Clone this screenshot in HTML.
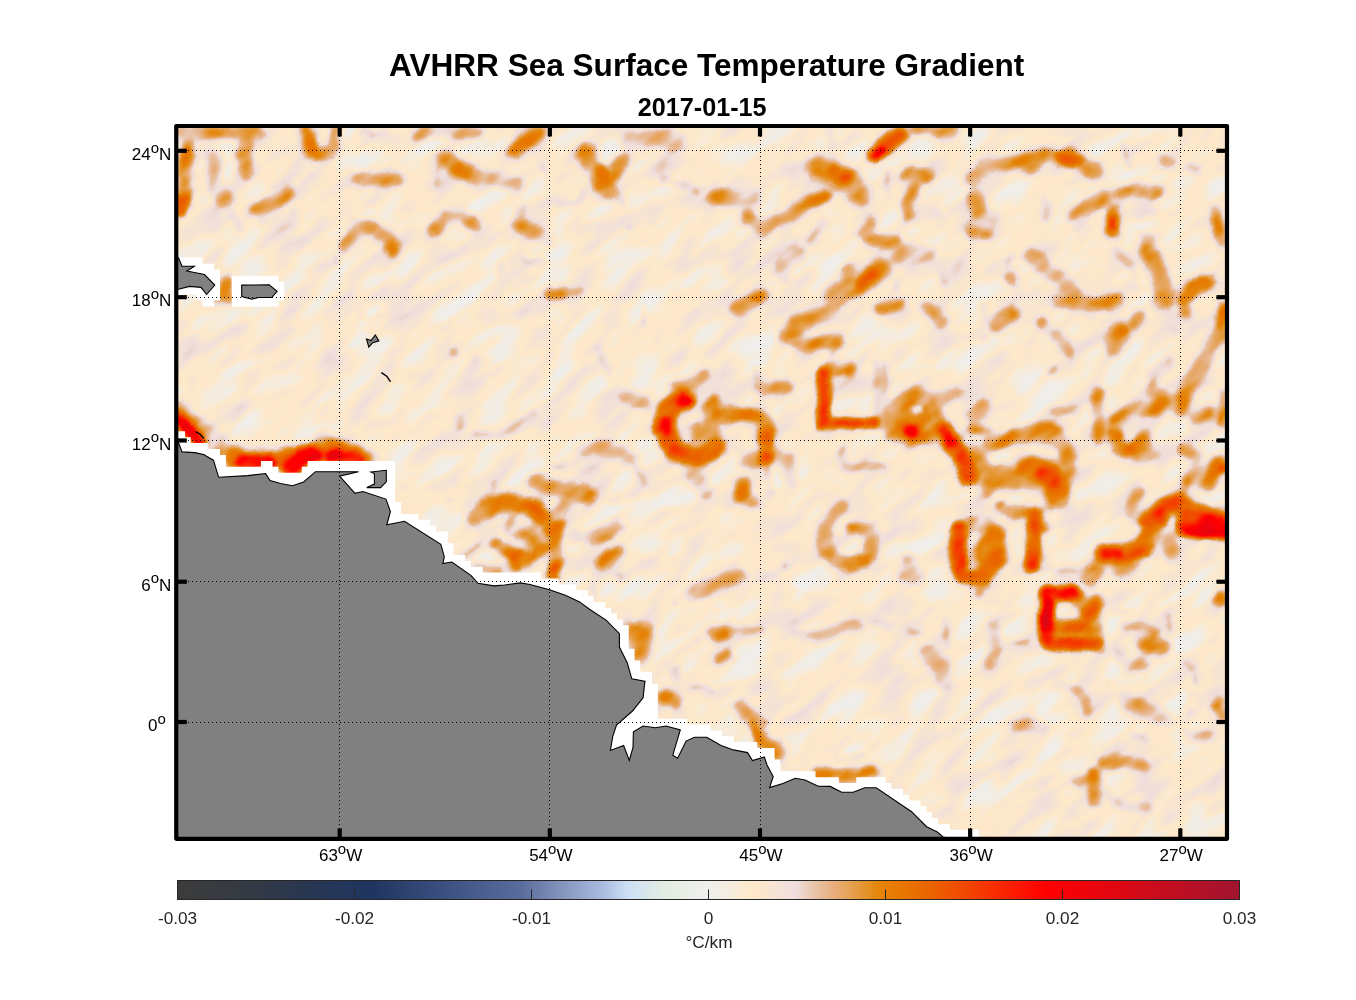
<!DOCTYPE html>
<html><head><meta charset="utf-8"><title>AVHRR Sea Surface Temperature Gradient</title>
<style>
html,body{margin:0;padding:0;background:#fff;}
body{width:1356px;height:1000px;overflow:hidden;font-family:"Liberation Sans",sans-serif;}
svg{display:block;position:absolute;left:0;top:0;}
text{font-family:"Liberation Sans",sans-serif;}
</style></head><body>
<svg width="1356" height="1000" viewBox="0 0 1356 1000">
<defs>
<clipPath id="mapclip"><rect x="176.25" y="126.00" width="1050.75" height="712.85"/></clipPath>
<linearGradient id="cbg" x1="0" x2="1" y1="0" y2="0"><stop offset="0.0000" stop-color="#3c3c3c"/><stop offset="0.0667" stop-color="#343a44"/><stop offset="0.1250" stop-color="#283652"/><stop offset="0.1833" stop-color="#1f3560"/><stop offset="0.2500" stop-color="#3c5080"/><stop offset="0.3233" stop-color="#5a6c9c"/><stop offset="0.3617" stop-color="#8494bc"/><stop offset="0.4017" stop-color="#aabde0"/><stop offset="0.4233" stop-color="#cddff5"/><stop offset="0.4600" stop-color="#e3eee2"/><stop offset="0.5000" stop-color="#f0efec"/><stop offset="0.5200" stop-color="#f5ecde"/><stop offset="0.5407" stop-color="#ffe9c8"/><stop offset="0.5617" stop-color="#f6e4d4"/><stop offset="0.5817" stop-color="#efdede"/><stop offset="0.6000" stop-color="#e8c4a8"/><stop offset="0.6167" stop-color="#e8b080"/><stop offset="0.6317" stop-color="#e6a458"/><stop offset="0.6450" stop-color="#e49632"/><stop offset="0.6583" stop-color="#e4880e"/><stop offset="0.6667" stop-color="#e68008"/><stop offset="0.6800" stop-color="#e87800"/><stop offset="0.7083" stop-color="#ea6400"/><stop offset="0.7500" stop-color="#f44000"/><stop offset="0.7917" stop-color="#fc1800"/><stop offset="0.8167" stop-color="#ff0000"/><stop offset="0.8333" stop-color="#f80006"/><stop offset="0.8750" stop-color="#e4060f"/><stop offset="0.9167" stop-color="#cc0c1c"/><stop offset="1.0000" stop-color="#a01430"/></linearGradient>
<filter id="field" x="-100" y="-350" width="1600" height="1700" filterUnits="userSpaceOnUse" color-interpolation-filters="sRGB">
<feGaussianBlur in="SourceGraphic" stdDeviation="2.6" result="bl0"/>
<feTurbulence type="fractalNoise" baseFrequency="0.045 0.05" numOctaves="2" seed="11" result="dn"/>
<feDisplacementMap in="bl0" in2="dn" scale="6" xChannelSelector="R" yChannelSelector="G" result="bl1"/>
<feTurbulence type="fractalNoise" baseFrequency="0.035 0.05" numOctaves="2" seed="23" result="mn"/>
<feColorMatrix in="mn" type="matrix" values="1 0 0 0 0  1 0 0 0 0  1 0 0 0 0  0 0 0 0 1" result="mn2"/>
<feComposite in="bl1" in2="mn2" operator="arithmetic" k1="0.6" k2="0.68" k3="0" k4="0" result="bl"/>
<feTurbulence type="fractalNoise" baseFrequency="0.02 0.05" numOctaves="2" seed="7" result="nz"/>
<feColorMatrix in="nz" type="matrix" values="0.36 0 0 0 -0.082  0.36 0 0 0 -0.082  0.36 0 0 0 -0.082  0 0 0 0 1" result="nz2"/>
<feComposite in="bl" in2="nz2" operator="arithmetic" k1="0" k2="1" k3="1" k4="0" result="sum"/>
<feColorMatrix in="sum" type="matrix" values="1 0 0 0 0  1 0 0 0 0  1 0 0 0 0  0 0 0 0 1" result="g"/>
<feComponentTransfer in="g">
<feFuncR type="table" tableValues="0.941 0.949 0.958 0.970 0.986 0.998 0.984 0.970 0.958 0.946 0.935 0.922 0.910 0.910 0.910 0.905 0.901 0.896 0.894 0.894 0.902 0.907 0.911 0.913 0.915 0.918 0.925 0.933 0.941 0.949 0.957 0.963 0.969 0.976 0.982 0.988 0.992 0.996 1.000 0.986 0.973 0.957 0.941 0.925 0.910 0.894 0.875 0.856 0.838 0.819 0.800"/>
<feFuncG type="table" tableValues="0.937 0.932 0.927 0.923 0.918 0.913 0.905 0.897 0.888 0.878 0.861 0.815 0.769 0.729 0.690 0.664 0.636 0.602 0.568 0.533 0.502 0.482 0.461 0.438 0.415 0.392 0.364 0.336 0.307 0.279 0.251 0.220 0.188 0.157 0.125 0.094 0.063 0.031 0.000 0.000 0.000 0.005 0.009 0.014 0.019 0.024 0.028 0.033 0.038 0.042 0.047"/>
<feFuncB type="table" tableValues="0.925 0.903 0.880 0.850 0.815 0.787 0.805 0.824 0.841 0.858 0.851 0.755 0.659 0.580 0.502 0.415 0.326 0.233 0.143 0.055 0.031 0.012 0.000 0.000 0.000 0.000 0.000 0.000 0.000 0.000 0.000 0.000 0.000 0.000 0.000 0.000 0.000 0.000 0.000 0.012 0.024 0.031 0.038 0.045 0.052 0.059 0.069 0.079 0.089 0.100 0.110"/>
</feComponentTransfer>
</filter>
</defs>
<rect x="0" y="0" width="1356" height="1000" fill="#ffffff"/>
<text x="706.7" y="75.9" text-anchor="middle" font-size="31.55" font-weight="bold" fill="#000" opacity="0.999">AVHRR Sea Surface Temperature Gradient</text>
<text x="702.2" y="116.1" text-anchor="middle" font-size="25.2" font-weight="bold" fill="#000" opacity="0.999">2017-01-15</text>
<g clip-path="url(#mapclip)">
<g transform="rotate(-38 700 480)" filter="url(#field)"><g transform="rotate(38 700 480)">
<rect x="100" y="60" width="1200" height="860" fill="#000"/>
<g fill="none" stroke-linecap="round" stroke-linejoin="round">
<path d="M182.6 131.8L220.2 131.3L257.9 132.2" stroke="rgb(31,31,31)" stroke-width="18.4"/>
<path d="M187.1 134.8L186.0 170.2L183.7 192.4" stroke="rgb(31,31,31)" stroke-width="18.4"/>
<path d="M181.5 200.1L179.3 207.9" stroke="rgb(31,31,31)" stroke-width="20.1"/>
<path d="M213.6 159.2L218.0 192.4L226.9 201.2" stroke="rgb(31,31,31)" stroke-width="19.1"/>
<path d="M247.9 132.6L242.4 152.5L246.8 169.1" stroke="rgb(31,31,31)" stroke-width="22.5"/>
<path d="M231.3 214.5L240.2 230.0" stroke="rgb(31,31,31)" stroke-width="5.6"/>
<path d="M306.5 130.4L308.3 147.0L319.8 155.9L334.2 148.1L336.4 130.4" stroke="rgb(31,31,31)" stroke-width="18.4"/>
<path d="M308.7 141.5L313.2 151.4" stroke="rgb(31,31,31)" stroke-width="14.1"/>
<path d="M285.5 193.5L268.9 203.4L257.9 208.3" stroke="rgb(31,31,31)" stroke-width="21.8"/>
<path d="M260.1 210.1L261.2 223.3" stroke="rgb(31,31,31)" stroke-width="5.6"/>
<path d="M359.6 179.1L379.5 179.1L395.0 180.2" stroke="rgb(31,31,31)" stroke-width="20.4"/>
<path d="M445.9 159.2L461.4 170.2L476.0 176.9" stroke="rgb(31,31,31)" stroke-width="22.5"/>
<path d="M439.3 170.2L437.1 183.5" stroke="rgb(31,31,31)" stroke-width="7.1"/>
<path d="M361.8 130.4L375.1 137.1L388.4 132.6" stroke="rgb(31,31,31)" stroke-width="7.6"/>
<path d="M417.2 134.8L441.5 130.4L476.0 132.6" stroke="rgb(31,31,31)" stroke-width="14.9"/>
<path d="M344.1 245.5L359.6 226.7L375.1 228.2L388.4 238.8L393.9 249.9" stroke="rgb(31,31,31)" stroke-width="19.1"/>
<path d="M434.8 230.0L448.1 217.2L463.6 216.7L473.6 223.3" stroke="rgb(31,31,31)" stroke-width="17.7"/>
<path d="M335.7 256.5L334.8 265.4" stroke="rgb(31,31,31)" stroke-width="6.6"/>
<path d="M225.8 282.0L225.8 294.1" stroke="rgb(31,31,31)" stroke-width="18.4"/>
<path d="M215.8 298.1L235.7 296.8" stroke="rgb(31,31,31)" stroke-width="14.3"/>
<path d="M359.6 314.1L368.5 320.7L379.5 314.1" stroke="rgb(31,31,31)" stroke-width="4.5"/>
<path d="M295.5 210.1L291.0 214.5" stroke="rgb(31,31,31)" stroke-width="5.6"/>
<path d="M535.7 130.4L513.6 150.3" stroke="rgb(31,31,31)" stroke-width="19.8"/>
<path d="M476.0 174.7L498.1 179.1L515.8 184.0" stroke="rgb(31,31,31)" stroke-width="17.7"/>
<path d="M586.6 152.5L595.5 174.7L608.7 190.2" stroke="rgb(31,31,31)" stroke-width="25.9"/>
<path d="M596.6 168.0L603.2 176.9" stroke="rgb(31,31,31)" stroke-width="20.1"/>
<path d="M622.0 159.2L613.2 176.9" stroke="rgb(31,31,31)" stroke-width="21.1"/>
<path d="M617.6 196.8L622.0 203.4" stroke="rgb(31,31,31)" stroke-width="6.1"/>
<path d="M628.7 141.5L653.0 137.1L677.3 141.5" stroke="rgb(31,31,31)" stroke-width="19.1"/>
<path d="M664.1 179.1L684.0 184.6L695.0 190.2" stroke="rgb(31,31,31)" stroke-width="9.6"/>
<path d="M714.9 196.8L737.1 199.5L752.5 194.6" stroke="rgb(31,31,31)" stroke-width="19.1"/>
<path d="M748.1 218.9L763.6 227.8L776.0 221.1" stroke="rgb(31,31,31)" stroke-width="21.1"/>
<path d="M520.2 210.1L516.9 223.3L531.3 232.2L546.8 238.8" stroke="rgb(31,31,31)" stroke-width="17.0"/>
<path d="M524.7 261.0L544.6 262.1" stroke="rgb(31,31,31)" stroke-width="7.6"/>
<path d="M500.3 263.2L498.1 276.4" stroke="rgb(31,31,31)" stroke-width="6.6"/>
<path d="M550.1 291.9L560.1 293.0" stroke="rgb(31,31,31)" stroke-width="17.7"/>
<path d="M568.9 293.0L582.2 291.9" stroke="rgb(31,31,31)" stroke-width="6.6"/>
<path d="M763.6 294.6L752.5 300.8L737.1 309.6" stroke="rgb(31,31,31)" stroke-width="20.4"/>
<path d="M762.5 295.9L757.0 298.6" stroke="rgb(31,31,31)" stroke-width="15.4"/>
<path d="M644.1 307.4L643.0 322.9" stroke="rgb(31,31,31)" stroke-width="7.6"/>
<path d="M582.2 190.2L580.0 201.2L560.1 203.4" stroke="rgb(31,31,31)" stroke-width="5.6"/>
<path d="M476.0 134.8L479.3 136.0" stroke="rgb(31,31,31)" stroke-width="8.1"/>
<path d="M628.7 227.8L630.9 228.9" stroke="rgb(31,31,31)" stroke-width="6.6"/>
<path d="M542.4 163.6L544.6 172.5" stroke="rgb(31,31,31)" stroke-width="6.1"/>
<path d="M899.9 134.8L886.6 145.9L873.3 153.7" stroke="rgb(31,31,31)" stroke-width="22.1"/>
<path d="M880.0 151.4L873.3 153.7" stroke="rgb(31,31,31)" stroke-width="16.1"/>
<path d="M829.1 130.4L831.3 145.9" stroke="rgb(31,31,31)" stroke-width="10.1"/>
<path d="M917.6 129.3L939.7 132.6L953.0 130.4" stroke="rgb(31,31,31)" stroke-width="16.3"/>
<path d="M818.0 165.8L837.9 174.7L853.4 184.0L862.3 196.8" stroke="rgb(31,31,31)" stroke-width="28.0"/>
<path d="M834.6 171.4L844.6 178.0" stroke="rgb(31,31,31)" stroke-width="18.7"/>
<path d="M776.0 218.9L791.5 214.5L809.2 201.2L824.7 196.8" stroke="rgb(31,31,31)" stroke-width="19.1"/>
<path d="M908.7 174.7L926.4 176.9" stroke="rgb(31,31,31)" stroke-width="19.8"/>
<path d="M915.4 179.1L908.7 201.2L907.6 214.5" stroke="rgb(31,31,31)" stroke-width="17.7"/>
<path d="M888.8 172.5L886.6 190.2" stroke="rgb(31,31,31)" stroke-width="8.6"/>
<path d="M970.7 179.1L988.4 165.8L1010.5 161.4L1041.5 159.2L1063.6 154.8L1076.0 159.2" stroke="rgb(31,31,31)" stroke-width="20.4"/>
<path d="M974.0 196.8L979.5 214.5L992.8 221.1" stroke="rgb(31,31,31)" stroke-width="19.1"/>
<path d="M970.7 232.2L988.4 233.3" stroke="rgb(31,31,31)" stroke-width="17.7"/>
<path d="M937.5 210.1L926.4 218.9L919.8 223.3" stroke="rgb(31,31,31)" stroke-width="9.6"/>
<path d="M871.1 223.3L864.5 234.4L877.8 241.0L895.5 243.3" stroke="rgb(31,31,31)" stroke-width="19.1"/>
<path d="M895.5 243.3L899.9 256.5L926.4 254.3" stroke="rgb(31,31,31)" stroke-width="20.4"/>
<path d="M824.7 221.1L809.2 241.0" stroke="rgb(31,31,31)" stroke-width="8.6"/>
<path d="M798.1 254.3L784.8 263.2L782.6 274.2" stroke="rgb(31,31,31)" stroke-width="20.4"/>
<path d="M882.2 267.6L864.5 280.9L846.8 289.7L833.5 294.1" stroke="rgb(31,31,31)" stroke-width="25.2"/>
<path d="M873.3 274.2L860.1 283.1" stroke="rgb(31,31,31)" stroke-width="17.4"/>
<path d="M849.0 269.8L846.8 280.9" stroke="rgb(31,31,31)" stroke-width="17.0"/>
<path d="M1011.6 256.5L1008.3 265.4" stroke="rgb(31,31,31)" stroke-width="7.6"/>
<path d="M1011.6 278.7L1011.6 278.7" stroke="rgb(31,31,31)" stroke-width="21.8"/>
<path d="M1030.4 256.5L1048.1 269.8L1063.6 280.9L1072.5 296.4" stroke="rgb(31,31,31)" stroke-width="20.4"/>
<path d="M941.9 272.0L944.1 285.3" stroke="rgb(31,31,31)" stroke-width="7.6"/>
<path d="M840.2 300.8L829.1 311.8L809.2 320.7L793.7 326.0" stroke="rgb(31,31,31)" stroke-width="22.5"/>
<path d="M880.0 309.6L899.9 305.2" stroke="rgb(31,31,31)" stroke-width="17.7"/>
<path d="M926.4 307.4L935.3 314.1L941.9 322.9" stroke="rgb(31,31,31)" stroke-width="15.6"/>
<path d="M1010.5 314.1L1001.7 320.7L997.2 326.0" stroke="rgb(31,31,31)" stroke-width="22.5"/>
<path d="M981.8 303.0L984.0 316.3" stroke="rgb(31,31,31)" stroke-width="7.6"/>
<path d="M1070.2 303.0L1076.0 305.2" stroke="rgb(31,31,31)" stroke-width="9.1"/>
<path d="M895.5 280.9L896.6 289.7" stroke="rgb(31,31,31)" stroke-width="6.6"/>
<path d="M1030.0 165.8L1043.3 157.0L1065.4 154.8L1080.9 161.4L1096.4 172.5" stroke="rgb(31,31,31)" stroke-width="22.5"/>
<path d="M1058.8 155.9L1078.7 161.4" stroke="rgb(31,31,31)" stroke-width="16.7"/>
<path d="M1120.7 192.4L1140.6 190.2L1156.1 190.2" stroke="rgb(31,31,31)" stroke-width="17.7"/>
<path d="M1103.0 196.8L1085.3 207.9L1074.2 214.5" stroke="rgb(31,31,31)" stroke-width="19.1"/>
<path d="M1087.5 214.5L1076.5 230.0" stroke="rgb(31,31,31)" stroke-width="7.6"/>
<path d="M1113.0 210.1L1113.0 232.2" stroke="rgb(31,31,31)" stroke-width="20.4"/>
<path d="M1112.3 218.9L1113.0 225.6" stroke="rgb(31,31,31)" stroke-width="14.1"/>
<path d="M1153.9 210.1L1140.6 218.9" stroke="rgb(31,31,31)" stroke-width="8.6"/>
<path d="M1045.5 201.2L1047.7 218.9" stroke="rgb(31,31,31)" stroke-width="10.1"/>
<path d="M1147.3 249.9L1156.1 267.6L1162.7 285.3L1162.7 300.8" stroke="rgb(31,31,31)" stroke-width="23.9"/>
<path d="M1116.3 249.9L1127.3 258.7L1131.8 267.6" stroke="rgb(31,31,31)" stroke-width="10.1"/>
<path d="M1136.2 234.4L1153.9 235.5" stroke="rgb(31,31,31)" stroke-width="5.6"/>
<path d="M1162.7 159.2L1171.6 163.6" stroke="rgb(31,31,31)" stroke-width="12.7"/>
<path d="M1122.9 145.9L1129.6 165.8" stroke="rgb(31,31,31)" stroke-width="7.6"/>
<path d="M1189.3 168.0L1198.1 170.2" stroke="rgb(31,31,31)" stroke-width="9.1"/>
<path d="M1215.8 210.1L1218.1 225.6L1222.5 241.0" stroke="rgb(31,31,31)" stroke-width="14.9"/>
<path d="M1184.9 298.6L1193.7 287.5L1207.0 283.5" stroke="rgb(31,31,31)" stroke-width="22.5"/>
<path d="M1184.9 298.6L1186.0 314.1" stroke="rgb(31,31,31)" stroke-width="16.3"/>
<path d="M1058.8 300.8L1078.7 305.2L1103.0 303.0L1118.5 300.8" stroke="rgb(31,31,31)" stroke-width="17.7"/>
<path d="M1030.0 256.5L1041.1 267.6L1052.1 276.4L1063.2 287.5" stroke="rgb(31,31,31)" stroke-width="11.2"/>
<path d="M1222.5 307.4L1220.3 326.0" stroke="rgb(31,31,31)" stroke-width="16.3"/>
<path d="M1140.6 316.3L1134.0 326.0" stroke="rgb(31,31,31)" stroke-width="16.3"/>
<path d="M1041.1 322.9L1041.1 322.9" stroke="rgb(31,31,31)" stroke-width="14.9"/>
<path d="M1136.2 287.5L1136.2 287.5" stroke="rgb(31,31,31)" stroke-width="7.1"/>
<path d="M178.2 416.7L188.2 431.1L199.2 441.0" stroke="rgb(31,31,31)" stroke-width="19.4"/>
<path d="M178.2 410.1L189.3 425.6L204.8 438.8" stroke="rgb(31,31,31)" stroke-width="23.9"/>
<path d="M189.3 423.3L207.0 432.2L220.2 438.8" stroke="rgb(31,31,31)" stroke-width="20.4"/>
<path d="M209.2 446.6L231.3 457.0" stroke="rgb(31,31,31)" stroke-width="21.8"/>
<path d="M233.5 457.6L253.4 459.8L275.6 461.4L299.9 455.4L326.4 446.6L348.6 452.5L364.1 458.7" stroke="rgb(31,31,31)" stroke-width="27.3"/>
<path d="M242.4 461.0L268.9 462.3" stroke="rgb(31,31,31)" stroke-width="21.4"/>
<path d="M291.0 467.6L299.9 458.7L313.2 453.2" stroke="rgb(31,31,31)" stroke-width="24.8"/>
<path d="M330.9 455.0L359.6 457.9" stroke="rgb(31,31,31)" stroke-width="20.1"/>
<path d="M322.0 436.6L328.7 441.0" stroke="rgb(31,31,31)" stroke-width="17.0"/>
<path d="M454.8 354.8L454.8 354.8" stroke="rgb(31,31,31)" stroke-width="12.2"/>
<path d="M459.2 416.7L459.6 427.8" stroke="rgb(31,31,31)" stroke-width="8.6"/>
<path d="M365.2 328.2L370.7 329.3" stroke="rgb(31,31,31)" stroke-width="6.1"/>
<path d="M684.0 399.0L668.5 410.1L664.1 425.6L668.5 443.3L679.5 453.2L697.2 456.5L713.8 446.6" stroke="rgb(31,31,31)" stroke-width="28.8"/>
<path d="M682.9 400.8L687.3 401.7" stroke="rgb(31,31,31)" stroke-width="18.7"/>
<path d="M665.8 421.1L666.7 430.0" stroke="rgb(31,31,31)" stroke-width="16.7"/>
<path d="M672.9 448.8L681.8 453.2" stroke="rgb(31,31,31)" stroke-width="16.1"/>
<path d="M710.5 410.1L712.7 445.5" stroke="rgb(31,31,31)" stroke-width="25.9"/>
<path d="M697.2 430.0L699.5 441.0" stroke="rgb(31,31,31)" stroke-width="20.4"/>
<path d="M675.1 384.6L692.8 383.5L703.9 373.6" stroke="rgb(31,31,31)" stroke-width="15.6"/>
<path d="M713.8 401.2L713.8 401.2" stroke="rgb(31,31,31)" stroke-width="17.0"/>
<path d="M717.2 416.7L741.5 414.5L761.4 416.7" stroke="rgb(31,31,31)" stroke-width="22.5"/>
<path d="M763.6 418.9L765.8 441.0L765.8 458.7" stroke="rgb(31,31,31)" stroke-width="22.5"/>
<path d="M765.8 458.7L765.8 458.7" stroke="rgb(31,31,31)" stroke-width="20.1"/>
<path d="M745.9 458.7L763.6 458.7" stroke="rgb(31,31,31)" stroke-width="22.5"/>
<path d="M761.4 388.4L776.0 389.3" stroke="rgb(31,31,31)" stroke-width="21.1"/>
<path d="M757.0 370.2L758.1 392.4" stroke="rgb(31,31,31)" stroke-width="6.6"/>
<path d="M626.4 396.8L644.1 403.4" stroke="rgb(31,31,31)" stroke-width="17.0"/>
<path d="M597.7 345.9L608.7 370.2L611.0 379.1" stroke="rgb(31,31,31)" stroke-width="6.6"/>
<path d="M582.2 449.9L599.9 446.6L617.6 452.1L630.9 458.7" stroke="rgb(31,31,31)" stroke-width="17.0"/>
<path d="M630.9 458.7L639.7 474.2L646.4 483.1" stroke="rgb(31,31,31)" stroke-width="7.6"/>
<path d="M476.0 434.4L498.1 436.6L520.2 423.3L535.7 414.5" stroke="rgb(31,31,31)" stroke-width="8.6"/>
<path d="M535.7 480.9L549.0 487.5L571.1 489.7L586.6 496.4" stroke="rgb(31,31,31)" stroke-width="20.4"/>
<path d="M476.0 516.3L493.7 503.0L509.2 500.8L529.1 507.4L542.4 518.5L549.0 526.0" stroke="rgb(31,31,31)" stroke-width="25.2"/>
<path d="M692.8 474.2L703.9 485.3L706.1 491.9" stroke="rgb(31,31,31)" stroke-width="19.1"/>
<path d="M741.5 483.1L743.7 498.6L752.5 500.8" stroke="rgb(31,31,31)" stroke-width="19.1"/>
<path d="M768.0 469.8L770.2 494.1" stroke="rgb(31,31,31)" stroke-width="8.6"/>
<path d="M608.7 498.6L617.6 500.8" stroke="rgb(31,31,31)" stroke-width="7.6"/>
<path d="M617.6 520.7L617.6 520.7" stroke="rgb(31,31,31)" stroke-width="7.6"/>
<path d="M549.0 466.5L564.5 466.5" stroke="rgb(31,31,31)" stroke-width="5.6"/>
<path d="M476.0 359.2L476.0 359.2" stroke="rgb(31,31,31)" stroke-width="7.1"/>
<path d="M568.9 496.4L560.1 507.4" stroke="rgb(31,31,31)" stroke-width="6.6"/>
<path d="M823.6 373.6L823.6 423.3" stroke="rgb(31,31,31)" stroke-width="18.1"/>
<path d="M824.7 410.1L825.1 421.1" stroke="rgb(31,31,31)" stroke-width="14.7"/>
<path d="M823.6 422.7L875.6 422.7" stroke="rgb(31,31,31)" stroke-width="16.7"/>
<path d="M826.9 369.1L849.0 368.0" stroke="rgb(31,31,31)" stroke-width="17.0"/>
<path d="M876.7 363.6L876.7 412.3" stroke="rgb(31,31,31)" stroke-width="9.4"/>
<path d="M884.8 363.6L884.8 412.3" stroke="rgb(31,31,31)" stroke-width="9.4"/>
<path d="M908.7 399.0L893.3 414.5L895.5 430.0L908.7 437.7L926.4 433.3L934.2 418.9L928.7 402.3L913.2 397.9" stroke="rgb(31,31,31)" stroke-width="27.3"/>
<path d="M904.3 430.0L917.6 431.8" stroke="rgb(31,31,31)" stroke-width="22.1"/>
<path d="M911.0 431.8L911.0 431.8" stroke="rgb(31,31,31)" stroke-width="22.8"/>
<path d="M944.1 430.0L953.0 445.5L964.1 458.7L968.5 476.4" stroke="rgb(31,31,31)" stroke-width="23.4"/>
<path d="M947.5 435.5L951.9 443.3" stroke="rgb(31,31,31)" stroke-width="16.7"/>
<path d="M957.4 392.4L948.6 396.8L937.5 399.0" stroke="rgb(31,31,31)" stroke-width="15.6"/>
<path d="M984.0 407.9L970.7 414.5" stroke="rgb(31,31,31)" stroke-width="19.1"/>
<path d="M970.7 430.0L988.4 431.1" stroke="rgb(31,31,31)" stroke-width="12.9"/>
<path d="M970.7 458.7L988.4 476.4L1014.9 478.7L1041.5 472.0L1059.2 480.9" stroke="rgb(31,31,31)" stroke-width="31.4"/>
<path d="M1041.5 473.1L1052.5 475.3" stroke="rgb(31,31,31)" stroke-width="20.1"/>
<path d="M992.8 443.3L1019.4 436.6L1041.5 434.4L1061.4 441.0L1070.2 458.7L1063.6 480.9L1059.2 498.6" stroke="rgb(31,31,31)" stroke-width="21.8"/>
<path d="M782.6 334.8L798.1 330.4" stroke="rgb(31,31,31)" stroke-width="19.1"/>
<path d="M798.1 344.8L837.9 341.5" stroke="rgb(31,31,31)" stroke-width="19.1"/>
<path d="M776.0 387.9L787.1 386.8" stroke="rgb(31,31,31)" stroke-width="19.8"/>
<path d="M842.4 449.9L844.6 467.6L880.0 465.4" stroke="rgb(31,31,31)" stroke-width="12.2"/>
<path d="M776.0 454.3L787.1 458.7L789.3 476.4" stroke="rgb(31,31,31)" stroke-width="19.1"/>
<path d="M842.4 507.4L833.5 516.3L824.7 526.0" stroke="rgb(31,31,31)" stroke-width="20.4"/>
<path d="M1001.7 509.6L1019.4 511.8L1034.8 514.1L1041.5 526.0" stroke="rgb(31,31,31)" stroke-width="19.1"/>
<path d="M970.7 522.9L988.4 518.5" stroke="rgb(31,31,31)" stroke-width="15.6"/>
<path d="M1050.3 334.8L1063.6 339.3L1068.0 352.5" stroke="rgb(31,31,31)" stroke-width="8.6"/>
<path d="M1052.5 370.2L1052.6 370.2" stroke="rgb(31,31,31)" stroke-width="9.6"/>
<path d="M1052.5 410.1L1072.5 411.2" stroke="rgb(31,31,31)" stroke-width="7.6"/>
<path d="M984.0 339.3L984.0 339.3" stroke="rgb(31,31,31)" stroke-width="8.1"/>
<path d="M1019.4 334.8L1019.4 334.8" stroke="rgb(31,31,31)" stroke-width="7.1"/>
<path d="M988.4 494.1L988.4 494.1" stroke="rgb(31,31,31)" stroke-width="9.6"/>
<path d="M1072.5 498.6L1072.5 498.6" stroke="rgb(31,31,31)" stroke-width="8.1"/>
<path d="M833.5 354.8L833.5 354.8" stroke="rgb(31,31,31)" stroke-width="7.1"/>
<path d="M1120.7 332.6L1113.0 347.0" stroke="rgb(31,31,31)" stroke-width="25.2"/>
<path d="M1049.9 330.4L1063.2 339.3L1067.6 352.5" stroke="rgb(31,31,31)" stroke-width="15.6"/>
<path d="M1052.1 370.2L1052.1 370.2" stroke="rgb(31,31,31)" stroke-width="11.2"/>
<path d="M1173.8 330.4L1173.8 330.4" stroke="rgb(31,31,31)" stroke-width="9.1"/>
<path d="M1222.5 330.4L1207.0 357.0L1198.1 374.7L1184.9 390.2L1180.4 410.1" stroke="rgb(31,31,31)" stroke-width="21.8"/>
<path d="M1182.7 401.2L1180.9 409.0" stroke="rgb(31,31,31)" stroke-width="15.6"/>
<path d="M1193.7 416.7L1207.0 412.3" stroke="rgb(31,31,31)" stroke-width="21.8"/>
<path d="M1222.9 392.4L1222.9 423.3" stroke="rgb(31,31,31)" stroke-width="12.9"/>
<path d="M1098.6 392.4L1098.6 438.8" stroke="rgb(31,31,31)" stroke-width="16.3"/>
<path d="M1114.1 418.9L1136.2 410.1L1153.9 407.9L1162.7 399.0" stroke="rgb(31,31,31)" stroke-width="19.1"/>
<path d="M1153.9 399.0L1153.9 376.9L1167.2 363.6" stroke="rgb(31,31,31)" stroke-width="15.6"/>
<path d="M1052.1 410.1L1078.7 411.2" stroke="rgb(31,31,31)" stroke-width="8.6"/>
<path d="M1114.1 434.4L1118.5 447.7L1131.8 452.1L1145.0 441.0" stroke="rgb(31,31,31)" stroke-width="21.8"/>
<path d="M1127.3 448.8L1131.8 449.9" stroke="rgb(31,31,31)" stroke-width="14.7"/>
<path d="M1140.6 458.7L1153.9 456.5" stroke="rgb(31,31,31)" stroke-width="11.2"/>
<path d="M1030.0 430.0L1052.1 427.8L1058.8 434.4" stroke="rgb(31,31,31)" stroke-width="17.7"/>
<path d="M1065.4 445.5L1069.8 463.2" stroke="rgb(31,31,31)" stroke-width="19.1"/>
<path d="M1030.0 467.6L1047.7 474.2L1056.5 487.5L1058.8 500.8" stroke="rgb(31,31,31)" stroke-width="34.2"/>
<path d="M1043.3 474.2L1052.1 480.9" stroke="rgb(31,31,31)" stroke-width="20.1"/>
<path d="M1184.9 449.9L1198.1 456.5L1193.7 469.8L1184.9 480.9" stroke="rgb(31,31,31)" stroke-width="17.0"/>
<path d="M1186.0 478.7L1186.0 478.7" stroke="rgb(31,31,31)" stroke-width="17.0"/>
<path d="M1218.1 461.0L1207.0 485.3" stroke="rgb(31,31,31)" stroke-width="19.1"/>
<path d="M1222.9 467.6L1222.9 467.6" stroke="rgb(31,31,31)" stroke-width="14.7"/>
<path d="M1147.3 520.7L1162.7 507.4L1180.4 503.0L1198.1 514.1L1222.5 520.7" stroke="rgb(31,31,31)" stroke-width="24.8"/>
<path d="M1184.9 516.3L1202.6 520.7L1222.5 522.9" stroke="rgb(31,31,31)" stroke-width="21.4"/>
<path d="M1158.3 514.1L1162.7 520.7" stroke="rgb(31,31,31)" stroke-width="16.7"/>
<path d="M1138.4 494.1L1134.0 514.1" stroke="rgb(31,31,31)" stroke-width="19.1"/>
<path d="M1069.8 498.6L1069.8 498.6" stroke="rgb(31,31,31)" stroke-width="8.1"/>
<path d="M1034.4 516.3L1038.8 526.0" stroke="rgb(31,31,31)" stroke-width="16.1"/>
<path d="M476.2 517.8L493.9 505.4L511.6 500.1L532.8 505.4L548.8 519.6L555.8 540.8L554.1 569.1L552.3 576.2" stroke="rgb(31,31,31)" stroke-width="19.9"/>
<path d="M525.8 503.6L539.9 510.7" stroke="rgb(31,31,31)" stroke-width="14.7"/>
<path d="M552.3 563.8L553.2 572.7" stroke="rgb(31,31,31)" stroke-width="15.8"/>
<path d="M495.7 546.1L511.6 553.2L529.3 560.3L539.9 551.4" stroke="rgb(31,31,31)" stroke-width="19.3"/>
<path d="M525.8 559.4L532.8 557.6" stroke="rgb(31,31,31)" stroke-width="14.2"/>
<path d="M511.6 521.3L508.1 530.2L520.4 535.5L534.6 528.4" stroke="rgb(31,31,31)" stroke-width="11.6"/>
<path d="M532.8 482.4L547.0 485.9L568.2 487.7L582.4 489.5" stroke="rgb(31,31,31)" stroke-width="18.2"/>
<path d="M578.8 491.2L568.2 501.9L557.6 512.5" stroke="rgb(31,31,31)" stroke-width="13.8"/>
<path d="M577.1 537.3L593.0 533.7L610.0 533.7" stroke="rgb(31,31,31)" stroke-width="15.5"/>
<path d="M600.1 562.0L610.0 555.0" stroke="rgb(31,31,31)" stroke-width="17.1"/>
<path d="M476.2 566.5L493.9 573.5" stroke="rgb(31,31,31)" stroke-width="16.6"/>
<path d="M449.6 501.9L449.7 501.9" stroke="rgb(31,31,31)" stroke-width="6.9"/>
<path d="M493.9 485.0L493.9 485.0" stroke="rgb(31,31,31)" stroke-width="6.1"/>
<path d="M463.8 558.5L479.7 544.3" stroke="rgb(31,31,31)" stroke-width="6.5"/>
<path d="M587.7 494.8L594.8 496.5" stroke="rgb(31,31,31)" stroke-width="6.5"/>
<path d="M542.4 548.1L529.1 559.2L515.8 563.6" stroke="rgb(31,31,31)" stroke-width="22.5"/>
<path d="M533.5 555.9L526.9 560.3" stroke="rgb(31,31,31)" stroke-width="15.4"/>
<path d="M498.1 548.1L513.6 557.0" stroke="rgb(31,31,31)" stroke-width="15.6"/>
<path d="M520.2 532.6L533.5 539.3" stroke="rgb(31,31,31)" stroke-width="17.7"/>
<path d="M482.6 569.1L493.7 570.2" stroke="rgb(31,31,31)" stroke-width="16.3"/>
<path d="M555.6 526.0L556.8 552.5L553.4 570.2" stroke="rgb(31,31,31)" stroke-width="21.1"/>
<path d="M553.9 563.6L553.4 570.2" stroke="rgb(31,31,31)" stroke-width="15.4"/>
<path d="M582.2 537.1L599.9 534.8L617.6 528.2" stroke="rgb(31,31,31)" stroke-width="17.0"/>
<path d="M617.6 550.3L608.7 559.2L599.9 565.8" stroke="rgb(31,31,31)" stroke-width="14.3"/>
<path d="M619.8 576.9L619.8 576.9" stroke="rgb(31,31,31)" stroke-width="10.1"/>
<path d="M595.5 587.9L596.6 596.8" stroke="rgb(31,31,31)" stroke-width="7.6"/>
<path d="M695.0 590.2L714.9 585.7L737.1 575.1" stroke="rgb(31,31,31)" stroke-width="20.4"/>
<path d="M763.6 579.1L776.0 576.9" stroke="rgb(31,31,31)" stroke-width="8.6"/>
<path d="M632.0 632.2L644.1 636.6L639.7 654.3" stroke="rgb(31,31,31)" stroke-width="28.0"/>
<path d="M716.0 632.6L723.8 632.2" stroke="rgb(31,31,31)" stroke-width="21.1"/>
<path d="M723.8 631.1L761.4 630.0" stroke="rgb(31,31,31)" stroke-width="8.6"/>
<path d="M719.4 658.7L728.2 654.3" stroke="rgb(31,31,31)" stroke-width="15.6"/>
<path d="M675.1 672.0L675.1 672.0" stroke="rgb(31,31,31)" stroke-width="15.6"/>
<path d="M664.1 696.4L675.1 700.8" stroke="rgb(31,31,31)" stroke-width="19.1"/>
<path d="M690.6 687.5L710.5 691.9" stroke="rgb(31,31,31)" stroke-width="7.6"/>
<path d="M739.3 707.4L752.5 718.5L761.4 722.9" stroke="rgb(31,31,31)" stroke-width="17.7"/>
<path d="M675.1 603.4L675.1 603.4" stroke="rgb(31,31,31)" stroke-width="6.6"/>
<path d="M714.9 610.1L714.9 610.1" stroke="rgb(31,31,31)" stroke-width="6.6"/>
<path d="M653.0 694.1L653.4 703.0" stroke="rgb(31,31,31)" stroke-width="6.6"/>
<path d="M824.7 526.0L824.7 548.1L833.5 559.2" stroke="rgb(31,31,31)" stroke-width="22.5"/>
<path d="M833.5 561.4L851.2 564.1L864.5 559.2" stroke="rgb(31,31,31)" stroke-width="22.5"/>
<path d="M871.1 532.6L871.1 554.8" stroke="rgb(31,31,31)" stroke-width="19.1"/>
<path d="M851.2 528.2L868.9 530.4" stroke="rgb(31,31,31)" stroke-width="15.6"/>
<path d="M908.7 559.2L911.0 576.9" stroke="rgb(31,31,31)" stroke-width="17.0"/>
<path d="M902.1 575.1L919.8 579.1" stroke="rgb(31,31,31)" stroke-width="14.9"/>
<path d="M959.6 530.4L957.4 559.2L964.1 576.9" stroke="rgb(31,31,31)" stroke-width="22.1"/>
<path d="M995.0 532.6L997.2 559.2L984.0 574.7" stroke="rgb(31,31,31)" stroke-width="25.2"/>
<path d="M964.1 527.8L997.2 527.8" stroke="rgb(31,31,31)" stroke-width="15.6"/>
<path d="M988.4 539.3L981.8 559.2" stroke="rgb(31,31,31)" stroke-width="19.1"/>
<path d="M968.5 577.3L981.8 579.1" stroke="rgb(31,31,31)" stroke-width="24.1"/>
<path d="M977.3 584.0L979.5 592.4" stroke="rgb(31,31,31)" stroke-width="14.3"/>
<path d="M1034.8 530.4L1032.6 548.1L1030.4 565.8" stroke="rgb(31,31,31)" stroke-width="18.1"/>
<path d="M1045.9 532.6L1043.7 559.2" stroke="rgb(31,31,31)" stroke-width="6.6"/>
<path d="M1030.4 567.2L1076.0 570.2" stroke="rgb(31,31,31)" stroke-width="5.1"/>
<path d="M795.9 634.4L809.2 632.2" stroke="rgb(31,31,31)" stroke-width="8.6"/>
<path d="M818.0 636.6L837.9 630.0L855.6 625.6" stroke="rgb(31,31,31)" stroke-width="17.0"/>
<path d="M875.6 623.3L886.6 625.6" stroke="rgb(31,31,31)" stroke-width="11.2"/>
<path d="M908.7 632.2L917.6 632.2" stroke="rgb(31,31,31)" stroke-width="7.6"/>
<path d="M926.4 654.3L939.7 663.2L944.1 680.9" stroke="rgb(31,31,31)" stroke-width="20.4"/>
<path d="M995.0 627.8L996.1 649.9L988.4 663.2" stroke="rgb(31,31,31)" stroke-width="15.6"/>
<path d="M946.4 621.1L947.5 645.5" stroke="rgb(31,31,31)" stroke-width="6.1"/>
<path d="M1012.7 642.2L1026.0 642.2" stroke="rgb(31,31,31)" stroke-width="5.6"/>
<path d="M1059.2 684.2L1076.0 687.5" stroke="rgb(31,31,31)" stroke-width="8.6"/>
<path d="M784.8 565.8L784.9 565.8" stroke="rgb(31,31,31)" stroke-width="7.6"/>
<path d="M809.2 596.8L809.2 596.8" stroke="rgb(31,31,31)" stroke-width="6.6"/>
<path d="M793.7 590.2L793.7 590.2" stroke="rgb(31,31,31)" stroke-width="6.1"/>
<path d="M1030.4 722.9L1030.4 722.9" stroke="rgb(31,31,31)" stroke-width="15.6"/>
<path d="M1184.9 526.0L1224.7 530.0" stroke="rgb(31,31,31)" stroke-width="25.4"/>
<path d="M1103.0 553.0L1122.9 554.8L1140.6 548.1L1149.5 534.8L1153.9 526.0" stroke="rgb(31,31,31)" stroke-width="24.8"/>
<path d="M1106.3 553.7L1118.5 554.8" stroke="rgb(31,31,31)" stroke-width="16.1"/>
<path d="M1125.1 565.8L1125.1 565.8" stroke="rgb(31,31,31)" stroke-width="34.2"/>
<path d="M1096.4 570.2L1089.7 581.3" stroke="rgb(31,31,31)" stroke-width="19.1"/>
<path d="M1167.2 534.8L1173.8 554.8" stroke="rgb(31,31,31)" stroke-width="19.1"/>
<path d="M1034.4 526.0L1035.5 548.1L1032.2 565.8" stroke="rgb(31,31,31)" stroke-width="18.1"/>
<path d="M1047.3 593.5L1047.3 636.6" stroke="rgb(31,31,31)" stroke-width="20.7"/>
<path d="M1045.9 601.2L1045.9 625.6" stroke="rgb(31,31,31)" stroke-width="15.4"/>
<path d="M1047.3 593.5L1074.2 593.5" stroke="rgb(31,31,31)" stroke-width="18.1"/>
<path d="M1048.8 643.9L1096.4 643.9" stroke="rgb(31,31,31)" stroke-width="19.4"/>
<path d="M1093.7 599.0L1093.7 643.3" stroke="rgb(31,31,31)" stroke-width="20.4"/>
<path d="M1054.3 626.7L1087.5 626.7" stroke="rgb(31,31,31)" stroke-width="18.7"/>
<path d="M1077.6 600.1L1091.9 614.5" stroke="rgb(31,31,31)" stroke-width="23.9"/>
<path d="M1122.9 625.6L1145.0 627.8L1153.9 634.4" stroke="rgb(31,31,31)" stroke-width="12.2"/>
<path d="M1116.3 613.4L1131.8 612.3" stroke="rgb(31,31,31)" stroke-width="5.1"/>
<path d="M1142.8 643.3L1162.7 647.2" stroke="rgb(31,31,31)" stroke-width="21.8"/>
<path d="M1169.4 616.7L1171.6 630.0" stroke="rgb(31,31,31)" stroke-width="7.6"/>
<path d="M1120.7 652.1L1125.1 665.4L1145.0 665.4" stroke="rgb(31,31,31)" stroke-width="15.6"/>
<path d="M1182.7 658.7L1193.7 667.6L1195.9 680.9" stroke="rgb(31,31,31)" stroke-width="7.6"/>
<path d="M1189.3 694.1L1189.3 694.1" stroke="rgb(31,31,31)" stroke-width="6.6"/>
<path d="M1188.2 711.8L1188.2 711.8" stroke="rgb(31,31,31)" stroke-width="6.6"/>
<path d="M1061.0 684.2L1076.5 689.7L1085.3 703.0L1087.5 714.1" stroke="rgb(31,31,31)" stroke-width="9.6"/>
<path d="M1127.3 703.0L1145.0 709.6L1160.5 716.3" stroke="rgb(31,31,31)" stroke-width="19.1"/>
<path d="M1220.7 599.0L1220.7 599.0" stroke="rgb(31,31,31)" stroke-width="20.4"/>
<path d="M1218.1 703.0L1222.5 714.1" stroke="rgb(31,31,31)" stroke-width="17.0"/>
<path d="M1107.4 683.1L1107.4 683.1" stroke="rgb(31,31,31)" stroke-width="6.6"/>
<path d="M815.8 773.5L842.4 775.7L873.3 772.1" stroke="rgb(31,31,31)" stroke-width="17.0"/>
<path d="M864.5 772.6L873.3 771.9" stroke="rgb(31,31,31)" stroke-width="14.3"/>
<path d="M837.9 758.0L860.1 755.3" stroke="rgb(31,31,31)" stroke-width="7.6"/>
<path d="M1017.2 725.4L1043.7 726.5" stroke="rgb(31,31,31)" stroke-width="15.6"/>
<path d="M777.1 746.5L777.8 757.5" stroke="rgb(31,31,31)" stroke-width="15.6"/>
<path d="M970.7 742.0L970.7 742.0" stroke="rgb(31,31,31)" stroke-width="5.6"/>
<path d="M1104.1 764.2L1125.1 763.1L1141.7 763.1" stroke="rgb(31,31,31)" stroke-width="17.0"/>
<path d="M1076.5 780.8L1094.2 779.6" stroke="rgb(31,31,31)" stroke-width="15.6"/>
<path d="M1094.2 775.2L1095.3 801.8" stroke="rgb(31,31,31)" stroke-width="20.4"/>
<path d="M1098.6 788.5L1118.5 804.0L1136.2 808.4L1149.5 808.4" stroke="rgb(31,31,31)" stroke-width="10.7"/>
<path d="M1127.3 704.4L1145.0 711.1L1162.7 716.6" stroke="rgb(31,31,31)" stroke-width="19.1"/>
<path d="M1085.3 700.0L1087.5 713.3" stroke="rgb(31,31,31)" stroke-width="8.6"/>
<path d="M1030.0 726.5L1043.3 726.5" stroke="rgb(31,31,31)" stroke-width="15.6"/>
<path d="M1134.0 736.5L1145.0 738.7" stroke="rgb(31,31,31)" stroke-width="8.6"/>
<path d="M1189.3 735.4L1207.0 736.5" stroke="rgb(31,31,31)" stroke-width="17.0"/>
<path d="M1188.2 711.1L1188.2 711.1" stroke="rgb(31,31,31)" stroke-width="6.1"/>
<path d="M1218.1 706.6L1222.5 715.5" stroke="rgb(31,31,31)" stroke-width="17.0"/>
<path d="M913.2 418.9L913.2 418.9" stroke="rgb(31,31,31)" stroke-width="51.4"/>
<path d="M740.4 706.5L754.6 724.2L760.8 738.4L774.1 750.8L779.4 757.9" stroke="rgb(31,31,31)" stroke-width="18.8"/>
<path d="M752.8 724.2L758.1 734.9" stroke="rgb(31,31,31)" stroke-width="14.7"/>
<path d="M213.6 159.2L218.0 192.4L226.9 201.2" stroke="rgb(45,45,45)" stroke-width="11.2"/>
<path d="M417.2 134.8L441.5 130.4L476.0 132.6" stroke="rgb(45,45,45)" stroke-width="8.1"/>
<path d="M476.0 174.7L498.1 179.1L515.8 184.0" stroke="rgb(45,45,45)" stroke-width="10.1"/>
<path d="M628.7 141.5L653.0 137.1L677.3 141.5" stroke="rgb(45,45,45)" stroke-width="11.2"/>
<path d="M714.9 196.8L737.1 199.5L752.5 194.6" stroke="rgb(45,45,45)" stroke-width="11.2"/>
<path d="M520.2 210.1L516.9 223.3L531.3 232.2L546.8 238.8" stroke="rgb(45,45,45)" stroke-width="9.6"/>
<path d="M974.0 196.8L979.5 214.5L992.8 221.1" stroke="rgb(45,45,45)" stroke-width="11.2"/>
<path d="M895.5 243.3L899.9 256.5L926.4 254.3" stroke="rgb(45,45,45)" stroke-width="12.2"/>
<path d="M798.1 254.3L784.8 263.2L782.6 274.2" stroke="rgb(45,45,45)" stroke-width="12.2"/>
<path d="M1030.4 256.5L1048.1 269.8L1063.6 280.9L1072.5 296.4" stroke="rgb(45,45,45)" stroke-width="12.2"/>
<path d="M926.4 307.4L935.3 314.1L941.9 322.9" stroke="rgb(45,45,45)" stroke-width="8.6"/>
<path d="M1103.0 196.8L1085.3 207.9L1074.2 214.5" stroke="rgb(45,45,45)" stroke-width="11.2"/>
<path d="M189.3 423.3L207.0 432.2L220.2 438.8" stroke="rgb(45,45,45)" stroke-width="12.2"/>
<path d="M209.2 446.6L231.3 457.0" stroke="rgb(45,45,45)" stroke-width="13.2"/>
<path d="M322.0 436.6L328.7 441.0" stroke="rgb(45,45,45)" stroke-width="9.6"/>
<path d="M626.4 396.8L644.1 403.4" stroke="rgb(45,45,45)" stroke-width="9.6"/>
<path d="M582.2 449.9L599.9 446.6L617.6 452.1L630.9 458.7" stroke="rgb(45,45,45)" stroke-width="9.6"/>
<path d="M692.8 474.2L703.9 485.3L706.1 491.9" stroke="rgb(45,45,45)" stroke-width="11.2"/>
<path d="M876.7 363.6L876.7 412.3" stroke="rgb(45,45,45)" stroke-width="4.0"/>
<path d="M884.8 363.6L884.8 412.3" stroke="rgb(45,45,45)" stroke-width="4.0"/>
<path d="M957.4 392.4L948.6 396.8L937.5 399.0" stroke="rgb(45,45,45)" stroke-width="8.6"/>
<path d="M984.0 407.9L970.7 414.5" stroke="rgb(45,45,45)" stroke-width="11.2"/>
<path d="M842.4 449.9L844.6 467.6L880.0 465.4" stroke="rgb(45,45,45)" stroke-width="6.1"/>
<path d="M776.0 454.3L787.1 458.7L789.3 476.4" stroke="rgb(45,45,45)" stroke-width="11.2"/>
<path d="M1049.9 330.4L1063.2 339.3L1067.6 352.5" stroke="rgb(45,45,45)" stroke-width="8.6"/>
<path d="M1153.9 399.0L1153.9 376.9L1167.2 363.6" stroke="rgb(45,45,45)" stroke-width="8.6"/>
<path d="M1138.4 494.1L1134.0 514.1" stroke="rgb(45,45,45)" stroke-width="11.2"/>
<path d="M511.6 521.3L508.1 530.2L520.4 535.5L534.6 528.4" stroke="rgb(45,45,45)" stroke-width="5.7"/>
<path d="M578.8 491.2L568.2 501.9L557.6 512.5" stroke="rgb(45,45,45)" stroke-width="7.3"/>
<path d="M577.1 537.3L593.0 533.7L610.0 533.7" stroke="rgb(45,45,45)" stroke-width="8.5"/>
<path d="M582.2 537.1L599.9 534.8L617.6 528.2" stroke="rgb(45,45,45)" stroke-width="9.6"/>
<path d="M695.0 590.2L714.9 585.7L737.1 575.1" stroke="rgb(45,45,45)" stroke-width="12.2"/>
<path d="M675.1 672.0L675.1 672.0" stroke="rgb(45,45,45)" stroke-width="8.6"/>
<path d="M908.7 559.2L911.0 576.9" stroke="rgb(45,45,45)" stroke-width="9.6"/>
<path d="M902.1 575.1L919.8 579.1" stroke="rgb(45,45,45)" stroke-width="8.1"/>
<path d="M818.0 636.6L837.9 630.0L855.6 625.6" stroke="rgb(45,45,45)" stroke-width="9.6"/>
<path d="M926.4 654.3L939.7 663.2L944.1 680.9" stroke="rgb(45,45,45)" stroke-width="12.2"/>
<path d="M995.0 627.8L996.1 649.9L988.4 663.2" stroke="rgb(45,45,45)" stroke-width="8.6"/>
<path d="M1030.4 722.9L1030.4 722.9" stroke="rgb(45,45,45)" stroke-width="8.6"/>
<path d="M1167.2 534.8L1173.8 554.8" stroke="rgb(45,45,45)" stroke-width="11.2"/>
<path d="M1122.9 625.6L1145.0 627.8L1153.9 634.4" stroke="rgb(45,45,45)" stroke-width="6.1"/>
<path d="M1120.7 652.1L1125.1 665.4L1145.0 665.4" stroke="rgb(45,45,45)" stroke-width="8.6"/>
<path d="M1127.3 703.0L1145.0 709.6L1160.5 716.3" stroke="rgb(45,45,45)" stroke-width="11.2"/>
<path d="M1218.1 703.0L1222.5 714.1" stroke="rgb(45,45,45)" stroke-width="9.6"/>
<path d="M1017.2 725.4L1043.7 726.5" stroke="rgb(45,45,45)" stroke-width="8.6"/>
<path d="M1076.5 780.8L1094.2 779.6" stroke="rgb(45,45,45)" stroke-width="8.6"/>
<path d="M1127.3 704.4L1145.0 711.1L1162.7 716.6" stroke="rgb(45,45,45)" stroke-width="11.2"/>
<path d="M1030.0 726.5L1043.3 726.5" stroke="rgb(45,45,45)" stroke-width="8.6"/>
<path d="M1189.3 735.4L1207.0 736.5" stroke="rgb(45,45,45)" stroke-width="9.6"/>
<path d="M182.6 131.8L220.2 131.3L257.9 132.2" stroke="rgb(63,63,63)" stroke-width="10.7"/>
<path d="M187.1 134.8L186.0 170.2L183.7 192.4" stroke="rgb(63,63,63)" stroke-width="10.7"/>
<path d="M181.5 200.1L179.3 207.9" stroke="rgb(63,63,63)" stroke-width="15.9"/>
<path d="M247.9 132.6L242.4 152.5L246.8 169.1" stroke="rgb(63,63,63)" stroke-width="13.7"/>
<path d="M308.7 141.5L313.2 151.4" stroke="rgb(63,63,63)" stroke-width="11.5"/>
<path d="M285.5 193.5L268.9 203.4L257.9 208.3" stroke="rgb(63,63,63)" stroke-width="13.2"/>
<path d="M359.6 179.1L379.5 179.1L395.0 180.2" stroke="rgb(63,63,63)" stroke-width="12.2"/>
<path d="M445.9 159.2L461.4 170.2L476.0 176.9" stroke="rgb(63,63,63)" stroke-width="13.7"/>
<path d="M344.1 245.5L359.6 226.7L375.1 228.2L388.4 238.8L393.9 249.9" stroke="rgb(63,63,63)" stroke-width="11.2"/>
<path d="M434.8 230.0L448.1 217.2L463.6 216.7L473.6 223.3" stroke="rgb(63,63,63)" stroke-width="10.1"/>
<path d="M215.8 298.1L235.7 296.8" stroke="rgb(63,63,63)" stroke-width="7.6"/>
<path d="M535.7 130.4L513.6 150.3" stroke="rgb(63,63,63)" stroke-width="11.7"/>
<path d="M586.6 152.5L595.5 174.7L608.7 190.2" stroke="rgb(63,63,63)" stroke-width="16.2"/>
<path d="M596.6 168.0L603.2 176.9" stroke="rgb(63,63,63)" stroke-width="15.9"/>
<path d="M622.0 159.2L613.2 176.9" stroke="rgb(63,63,63)" stroke-width="12.7"/>
<path d="M748.1 218.9L763.6 227.8L776.0 221.1" stroke="rgb(63,63,63)" stroke-width="12.7"/>
<path d="M550.1 291.9L560.1 293.0" stroke="rgb(63,63,63)" stroke-width="10.1"/>
<path d="M763.6 294.6L752.5 300.8L737.1 309.6" stroke="rgb(63,63,63)" stroke-width="12.2"/>
<path d="M762.5 295.9L757.0 298.6" stroke="rgb(63,63,63)" stroke-width="12.4"/>
<path d="M899.9 134.8L886.6 145.9L873.3 153.7" stroke="rgb(63,63,63)" stroke-width="17.4"/>
<path d="M880.0 151.4L873.3 153.7" stroke="rgb(63,63,63)" stroke-width="15.9"/>
<path d="M917.6 129.3L939.7 132.6L953.0 130.4" stroke="rgb(63,63,63)" stroke-width="9.1"/>
<path d="M818.0 165.8L837.9 174.7L853.4 184.0L862.3 196.8" stroke="rgb(63,63,63)" stroke-width="17.8"/>
<path d="M834.6 171.4L844.6 178.0" stroke="rgb(63,63,63)" stroke-width="14.9"/>
<path d="M776.0 218.9L791.5 214.5L809.2 201.2L824.7 196.8" stroke="rgb(63,63,63)" stroke-width="11.2"/>
<path d="M908.7 174.7L926.4 176.9" stroke="rgb(63,63,63)" stroke-width="11.7"/>
<path d="M915.4 179.1L908.7 201.2L907.6 214.5" stroke="rgb(63,63,63)" stroke-width="10.1"/>
<path d="M970.7 179.1L988.4 165.8L1010.5 161.4L1041.5 159.2L1063.6 154.8L1076.0 159.2" stroke="rgb(63,63,63)" stroke-width="12.2"/>
<path d="M970.7 232.2L988.4 233.3" stroke="rgb(63,63,63)" stroke-width="10.1"/>
<path d="M871.1 223.3L864.5 234.4L877.8 241.0L895.5 243.3" stroke="rgb(63,63,63)" stroke-width="11.2"/>
<path d="M882.2 267.6L864.5 280.9L846.8 289.7L833.5 294.1" stroke="rgb(63,63,63)" stroke-width="15.7"/>
<path d="M873.3 274.2L860.1 283.1" stroke="rgb(63,63,63)" stroke-width="13.9"/>
<path d="M849.0 269.8L846.8 280.9" stroke="rgb(63,63,63)" stroke-width="9.6"/>
<path d="M840.2 300.8L829.1 311.8L809.2 320.7L793.7 326.0" stroke="rgb(63,63,63)" stroke-width="13.7"/>
<path d="M880.0 309.6L899.9 305.2" stroke="rgb(63,63,63)" stroke-width="10.1"/>
<path d="M1010.5 314.1L1001.7 320.7L997.2 326.0" stroke="rgb(63,63,63)" stroke-width="13.7"/>
<path d="M1030.0 165.8L1043.3 157.0L1065.4 154.8L1080.9 161.4L1096.4 172.5" stroke="rgb(63,63,63)" stroke-width="13.7"/>
<path d="M1058.8 155.9L1078.7 161.4" stroke="rgb(63,63,63)" stroke-width="13.4"/>
<path d="M1120.7 192.4L1140.6 190.2L1156.1 190.2" stroke="rgb(63,63,63)" stroke-width="10.1"/>
<path d="M1112.3 218.9L1113.0 225.6" stroke="rgb(63,63,63)" stroke-width="11.5"/>
<path d="M1147.3 249.9L1156.1 267.6L1162.7 285.3L1162.7 300.8" stroke="rgb(63,63,63)" stroke-width="14.7"/>
<path d="M1215.8 210.1L1218.1 225.6L1222.5 241.0" stroke="rgb(63,63,63)" stroke-width="8.1"/>
<path d="M1184.9 298.6L1186.0 314.1" stroke="rgb(63,63,63)" stroke-width="9.1"/>
<path d="M1058.8 300.8L1078.7 305.2L1103.0 303.0L1118.5 300.8" stroke="rgb(63,63,63)" stroke-width="10.1"/>
<path d="M1140.6 316.3L1134.0 326.0" stroke="rgb(63,63,63)" stroke-width="9.1"/>
<path d="M1041.1 322.9L1041.1 322.9" stroke="rgb(63,63,63)" stroke-width="8.1"/>
<path d="M178.2 416.7L188.2 431.1L199.2 441.0" stroke="rgb(63,63,63)" stroke-width="18.4"/>
<path d="M178.2 410.1L189.3 425.6L204.8 438.8" stroke="rgb(63,63,63)" stroke-width="14.7"/>
<path d="M242.4 461.0L268.9 462.3" stroke="rgb(63,63,63)" stroke-width="19.9"/>
<path d="M291.0 467.6L299.9 458.7L313.2 453.2" stroke="rgb(63,63,63)" stroke-width="22.4"/>
<path d="M330.9 455.0L359.6 457.9" stroke="rgb(63,63,63)" stroke-width="18.9"/>
<path d="M684.0 399.0L668.5 410.1L664.1 425.6L668.5 443.3L679.5 453.2L697.2 456.5L713.8 446.6" stroke="rgb(63,63,63)" stroke-width="22.4"/>
<path d="M682.9 400.8L687.3 401.7" stroke="rgb(63,63,63)" stroke-width="17.9"/>
<path d="M665.8 421.1L666.7 430.0" stroke="rgb(63,63,63)" stroke-width="16.4"/>
<path d="M672.9 448.8L681.8 453.2" stroke="rgb(63,63,63)" stroke-width="12.9"/>
<path d="M710.5 410.1L712.7 445.5" stroke="rgb(63,63,63)" stroke-width="16.2"/>
<path d="M697.2 430.0L699.5 441.0" stroke="rgb(63,63,63)" stroke-width="12.2"/>
<path d="M675.1 384.6L692.8 383.5L703.9 373.6" stroke="rgb(63,63,63)" stroke-width="8.6"/>
<path d="M713.8 401.2L713.8 401.2" stroke="rgb(63,63,63)" stroke-width="9.6"/>
<path d="M765.8 458.7L765.8 458.7" stroke="rgb(63,63,63)" stroke-width="15.9"/>
<path d="M745.9 458.7L763.6 458.7" stroke="rgb(63,63,63)" stroke-width="13.7"/>
<path d="M761.4 388.4L776.0 389.3" stroke="rgb(63,63,63)" stroke-width="12.7"/>
<path d="M535.7 480.9L549.0 487.5L571.1 489.7L586.6 496.4" stroke="rgb(63,63,63)" stroke-width="12.2"/>
<path d="M741.5 483.1L743.7 498.6L752.5 500.8" stroke="rgb(63,63,63)" stroke-width="11.2"/>
<path d="M823.6 373.6L823.6 423.3" stroke="rgb(63,63,63)" stroke-width="14.4"/>
<path d="M824.7 410.1L825.1 421.1" stroke="rgb(63,63,63)" stroke-width="14.9"/>
<path d="M823.6 422.7L875.6 422.7" stroke="rgb(63,63,63)" stroke-width="13.4"/>
<path d="M826.9 369.1L849.0 368.0" stroke="rgb(63,63,63)" stroke-width="9.6"/>
<path d="M908.7 399.0L893.3 414.5L895.5 430.0L908.7 437.7L926.4 433.3L934.2 418.9L928.7 402.3L913.2 397.9" stroke="rgb(63,63,63)" stroke-width="17.3"/>
<path d="M904.3 430.0L917.6 431.8" stroke="rgb(63,63,63)" stroke-width="17.4"/>
<path d="M911.0 431.8L911.0 431.8" stroke="rgb(63,63,63)" stroke-width="20.9"/>
<path d="M944.1 430.0L953.0 445.5L964.1 458.7L968.5 476.4" stroke="rgb(63,63,63)" stroke-width="18.4"/>
<path d="M947.5 435.5L951.9 443.3" stroke="rgb(63,63,63)" stroke-width="16.4"/>
<path d="M970.7 430.0L988.4 431.1" stroke="rgb(63,63,63)" stroke-width="6.6"/>
<path d="M970.7 458.7L988.4 476.4L1014.9 478.7L1041.5 472.0L1059.2 480.9" stroke="rgb(63,63,63)" stroke-width="20.3"/>
<path d="M1041.5 473.1L1052.5 475.3" stroke="rgb(63,63,63)" stroke-width="15.9"/>
<path d="M992.8 443.3L1019.4 436.6L1041.5 434.4L1061.4 441.0L1070.2 458.7L1063.6 480.9L1059.2 498.6" stroke="rgb(63,63,63)" stroke-width="13.2"/>
<path d="M782.6 334.8L798.1 330.4" stroke="rgb(63,63,63)" stroke-width="11.2"/>
<path d="M798.1 344.8L837.9 341.5" stroke="rgb(63,63,63)" stroke-width="11.2"/>
<path d="M776.0 387.9L787.1 386.8" stroke="rgb(63,63,63)" stroke-width="11.7"/>
<path d="M842.4 507.4L833.5 516.3L824.7 526.0" stroke="rgb(63,63,63)" stroke-width="12.2"/>
<path d="M970.7 522.9L988.4 518.5" stroke="rgb(63,63,63)" stroke-width="8.6"/>
<path d="M1120.7 332.6L1113.0 347.0" stroke="rgb(63,63,63)" stroke-width="15.7"/>
<path d="M1222.5 330.4L1207.0 357.0L1198.1 374.7L1184.9 390.2L1180.4 410.1" stroke="rgb(63,63,63)" stroke-width="13.2"/>
<path d="M1193.7 416.7L1207.0 412.3" stroke="rgb(63,63,63)" stroke-width="13.2"/>
<path d="M1222.9 392.4L1222.9 423.3" stroke="rgb(63,63,63)" stroke-width="6.6"/>
<path d="M1098.6 392.4L1098.6 438.8" stroke="rgb(63,63,63)" stroke-width="9.1"/>
<path d="M1114.1 418.9L1136.2 410.1L1153.9 407.9L1162.7 399.0" stroke="rgb(63,63,63)" stroke-width="11.2"/>
<path d="M1127.3 448.8L1131.8 449.9" stroke="rgb(63,63,63)" stroke-width="11.9"/>
<path d="M1030.0 430.0L1052.1 427.8L1058.8 434.4" stroke="rgb(63,63,63)" stroke-width="10.1"/>
<path d="M1065.4 445.5L1069.8 463.2" stroke="rgb(63,63,63)" stroke-width="11.2"/>
<path d="M1043.3 474.2L1052.1 480.9" stroke="rgb(63,63,63)" stroke-width="15.9"/>
<path d="M1184.9 449.9L1198.1 456.5L1193.7 469.8L1184.9 480.9" stroke="rgb(63,63,63)" stroke-width="9.6"/>
<path d="M1218.1 461.0L1207.0 485.3" stroke="rgb(63,63,63)" stroke-width="11.2"/>
<path d="M1222.9 467.6L1222.9 467.6" stroke="rgb(63,63,63)" stroke-width="11.9"/>
<path d="M1147.3 520.7L1162.7 507.4L1180.4 503.0L1198.1 514.1L1222.5 520.7" stroke="rgb(63,63,63)" stroke-width="19.4"/>
<path d="M1184.9 516.3L1202.6 520.7L1222.5 522.9" stroke="rgb(63,63,63)" stroke-width="19.9"/>
<path d="M1158.3 514.1L1162.7 520.7" stroke="rgb(63,63,63)" stroke-width="13.4"/>
<path d="M1034.4 516.3L1038.8 526.0" stroke="rgb(63,63,63)" stroke-width="12.9"/>
<path d="M525.8 503.6L539.9 510.7" stroke="rgb(63,63,63)" stroke-width="11.9"/>
<path d="M552.3 563.8L553.2 572.7" stroke="rgb(63,63,63)" stroke-width="12.7"/>
<path d="M525.8 559.4L532.8 557.6" stroke="rgb(63,63,63)" stroke-width="11.6"/>
<path d="M532.8 482.4L547.0 485.9L568.2 487.7L582.4 489.5" stroke="rgb(63,63,63)" stroke-width="10.5"/>
<path d="M600.1 562.0L610.0 555.0" stroke="rgb(63,63,63)" stroke-width="9.7"/>
<path d="M476.2 566.5L493.9 573.5" stroke="rgb(63,63,63)" stroke-width="9.3"/>
<path d="M533.5 555.9L526.9 560.3" stroke="rgb(63,63,63)" stroke-width="12.4"/>
<path d="M498.1 548.1L513.6 557.0" stroke="rgb(63,63,63)" stroke-width="8.6"/>
<path d="M520.2 532.6L533.5 539.3" stroke="rgb(63,63,63)" stroke-width="10.1"/>
<path d="M482.6 569.1L493.7 570.2" stroke="rgb(63,63,63)" stroke-width="9.1"/>
<path d="M553.9 563.6L553.4 570.2" stroke="rgb(63,63,63)" stroke-width="12.4"/>
<path d="M617.6 550.3L608.7 559.2L599.9 565.8" stroke="rgb(63,63,63)" stroke-width="7.6"/>
<path d="M632.0 632.2L644.1 636.6L639.7 654.3" stroke="rgb(63,63,63)" stroke-width="17.8"/>
<path d="M716.0 632.6L723.8 632.2" stroke="rgb(63,63,63)" stroke-width="12.7"/>
<path d="M719.4 658.7L728.2 654.3" stroke="rgb(63,63,63)" stroke-width="8.6"/>
<path d="M664.1 696.4L675.1 700.8" stroke="rgb(63,63,63)" stroke-width="11.2"/>
<path d="M739.3 707.4L752.5 718.5L761.4 722.9" stroke="rgb(63,63,63)" stroke-width="10.1"/>
<path d="M824.7 526.0L824.7 548.1L833.5 559.2" stroke="rgb(63,63,63)" stroke-width="13.7"/>
<path d="M871.1 532.6L871.1 554.8" stroke="rgb(63,63,63)" stroke-width="11.2"/>
<path d="M851.2 528.2L868.9 530.4" stroke="rgb(63,63,63)" stroke-width="8.6"/>
<path d="M959.6 530.4L957.4 559.2L964.1 576.9" stroke="rgb(63,63,63)" stroke-width="17.4"/>
<path d="M964.1 527.8L997.2 527.8" stroke="rgb(63,63,63)" stroke-width="8.6"/>
<path d="M988.4 539.3L981.8 559.2" stroke="rgb(63,63,63)" stroke-width="11.2"/>
<path d="M968.5 577.3L981.8 579.1" stroke="rgb(63,63,63)" stroke-width="18.9"/>
<path d="M977.3 584.0L979.5 592.4" stroke="rgb(63,63,63)" stroke-width="7.6"/>
<path d="M1034.8 530.4L1032.6 548.1L1030.4 565.8" stroke="rgb(63,63,63)" stroke-width="14.4"/>
<path d="M1184.9 526.0L1224.7 530.0" stroke="rgb(63,63,63)" stroke-width="22.9"/>
<path d="M1103.0 553.0L1122.9 554.8L1140.6 548.1L1149.5 534.8L1153.9 526.0" stroke="rgb(63,63,63)" stroke-width="19.4"/>
<path d="M1106.3 553.7L1118.5 554.8" stroke="rgb(63,63,63)" stroke-width="15.9"/>
<path d="M1125.1 565.8L1125.1 565.8" stroke="rgb(63,63,63)" stroke-width="22.4"/>
<path d="M1096.4 570.2L1089.7 581.3" stroke="rgb(63,63,63)" stroke-width="11.2"/>
<path d="M1034.4 526.0L1035.5 548.1L1032.2 565.8" stroke="rgb(63,63,63)" stroke-width="14.4"/>
<path d="M1047.3 593.5L1047.3 636.6" stroke="rgb(63,63,63)" stroke-width="19.4"/>
<path d="M1045.9 601.2L1045.9 625.6" stroke="rgb(63,63,63)" stroke-width="15.4"/>
<path d="M1047.3 593.5L1074.2 593.5" stroke="rgb(63,63,63)" stroke-width="17.4"/>
<path d="M1048.8 643.9L1096.4 643.9" stroke="rgb(63,63,63)" stroke-width="15.4"/>
<path d="M1054.3 626.7L1087.5 626.7" stroke="rgb(63,63,63)" stroke-width="14.9"/>
<path d="M1142.8 643.3L1162.7 647.2" stroke="rgb(63,63,63)" stroke-width="13.2"/>
<path d="M1220.7 599.0L1220.7 599.0" stroke="rgb(63,63,63)" stroke-width="12.2"/>
<path d="M815.8 773.5L842.4 775.7L873.3 772.1" stroke="rgb(63,63,63)" stroke-width="9.6"/>
<path d="M777.1 746.5L777.8 757.5" stroke="rgb(63,63,63)" stroke-width="8.6"/>
<path d="M1104.1 764.2L1125.1 763.1L1141.7 763.1" stroke="rgb(63,63,63)" stroke-width="9.6"/>
<path d="M1218.1 706.6L1222.5 715.5" stroke="rgb(63,63,63)" stroke-width="9.6"/>
<path d="M740.4 706.5L754.6 724.2L760.8 738.4L774.1 750.8L779.4 757.9" stroke="rgb(63,63,63)" stroke-width="11.0"/>
<path d="M752.8 724.2L758.1 734.9" stroke="rgb(63,63,63)" stroke-width="11.9"/>
<path d="M306.5 130.4L308.3 147.0L319.8 155.9L334.2 148.1L336.4 130.4" stroke="rgb(79,79,79)" stroke-width="10.7"/>
<path d="M225.8 282.0L225.8 294.1" stroke="rgb(79,79,79)" stroke-width="10.7"/>
<path d="M1011.6 278.7L1011.6 278.7" stroke="rgb(79,79,79)" stroke-width="13.2"/>
<path d="M1113.0 210.1L1113.0 232.2" stroke="rgb(79,79,79)" stroke-width="12.2"/>
<path d="M1184.9 298.6L1193.7 287.5L1207.0 283.5" stroke="rgb(79,79,79)" stroke-width="13.7"/>
<path d="M1222.5 307.4L1220.3 326.0" stroke="rgb(79,79,79)" stroke-width="9.1"/>
<path d="M233.5 457.6L253.4 459.8L275.6 461.4L299.9 455.4L326.4 446.6L348.6 452.5L364.1 458.7" stroke="rgb(79,79,79)" stroke-width="17.3"/>
<path d="M717.2 416.7L741.5 414.5L761.4 416.7" stroke="rgb(79,79,79)" stroke-width="13.7"/>
<path d="M763.6 418.9L765.8 441.0L765.8 458.7" stroke="rgb(79,79,79)" stroke-width="13.7"/>
<path d="M476.0 516.3L493.7 503.0L509.2 500.8L529.1 507.4L542.4 518.5L549.0 526.0" stroke="rgb(79,79,79)" stroke-width="15.7"/>
<path d="M1001.7 509.6L1019.4 511.8L1034.8 514.1L1041.5 526.0" stroke="rgb(79,79,79)" stroke-width="11.2"/>
<path d="M1182.7 401.2L1180.9 409.0" stroke="rgb(79,79,79)" stroke-width="8.6"/>
<path d="M1114.1 434.4L1118.5 447.7L1131.8 452.1L1145.0 441.0" stroke="rgb(79,79,79)" stroke-width="13.2"/>
<path d="M1030.0 467.6L1047.7 474.2L1056.5 487.5L1058.8 500.8" stroke="rgb(79,79,79)" stroke-width="22.4"/>
<path d="M1186.0 478.7L1186.0 478.7" stroke="rgb(79,79,79)" stroke-width="9.6"/>
<path d="M476.2 517.8L493.9 505.4L511.6 500.1L532.8 505.4L548.8 519.6L555.8 540.8L554.1 569.1L552.3 576.2" stroke="rgb(79,79,79)" stroke-width="11.8"/>
<path d="M495.7 546.1L511.6 553.2L529.3 560.3L539.9 551.4" stroke="rgb(79,79,79)" stroke-width="11.4"/>
<path d="M542.4 548.1L529.1 559.2L515.8 563.6" stroke="rgb(79,79,79)" stroke-width="13.7"/>
<path d="M555.6 526.0L556.8 552.5L553.4 570.2" stroke="rgb(79,79,79)" stroke-width="12.7"/>
<path d="M833.5 561.4L851.2 564.1L864.5 559.2" stroke="rgb(79,79,79)" stroke-width="13.7"/>
<path d="M995.0 532.6L997.2 559.2L984.0 574.7" stroke="rgb(79,79,79)" stroke-width="15.7"/>
<path d="M1093.7 599.0L1093.7 643.3" stroke="rgb(79,79,79)" stroke-width="12.2"/>
<path d="M1077.6 600.1L1091.9 614.5" stroke="rgb(79,79,79)" stroke-width="14.7"/>
<path d="M864.5 772.6L873.3 771.9" stroke="rgb(79,79,79)" stroke-width="7.6"/>
<path d="M1094.2 775.2L1095.3 801.8" stroke="rgb(79,79,79)" stroke-width="12.2"/>
<path d="M913.2 418.9L913.2 418.9" stroke="rgb(79,79,79)" stroke-width="35.1"/>
<path d="M181.5 200.1L179.3 207.9" stroke="rgb(99,99,99)" stroke-width="11.9"/>
<path d="M308.7 141.5L313.2 151.4" stroke="rgb(99,99,99)" stroke-width="7.5"/>
<path d="M596.6 168.0L603.2 176.9" stroke="rgb(99,99,99)" stroke-width="11.9"/>
<path d="M762.5 295.9L757.0 298.6" stroke="rgb(99,99,99)" stroke-width="8.4"/>
<path d="M899.9 134.8L886.6 145.9L873.3 153.7" stroke="rgb(99,99,99)" stroke-width="13.4"/>
<path d="M880.0 151.4L873.3 153.7" stroke="rgb(99,99,99)" stroke-width="11.9"/>
<path d="M834.6 171.4L844.6 178.0" stroke="rgb(99,99,99)" stroke-width="10.9"/>
<path d="M873.3 274.2L860.1 283.1" stroke="rgb(99,99,99)" stroke-width="9.9"/>
<path d="M1058.8 155.9L1078.7 161.4" stroke="rgb(99,99,99)" stroke-width="9.4"/>
<path d="M178.2 416.7L188.2 431.1L199.2 441.0" stroke="rgb(99,99,99)" stroke-width="14.4"/>
<path d="M242.4 461.0L268.9 462.3" stroke="rgb(99,99,99)" stroke-width="15.9"/>
<path d="M291.0 467.6L299.9 458.7L313.2 453.2" stroke="rgb(99,99,99)" stroke-width="18.4"/>
<path d="M330.9 455.0L359.6 457.9" stroke="rgb(99,99,99)" stroke-width="14.9"/>
<path d="M684.0 399.0L668.5 410.1L664.1 425.6L668.5 443.3L679.5 453.2L697.2 456.5L713.8 446.6" stroke="rgb(99,99,99)" stroke-width="18.4"/>
<path d="M682.9 400.8L687.3 401.7" stroke="rgb(99,99,99)" stroke-width="13.9"/>
<path d="M665.8 421.1L666.7 430.0" stroke="rgb(99,99,99)" stroke-width="12.4"/>
<path d="M824.7 410.1L825.1 421.1" stroke="rgb(99,99,99)" stroke-width="10.9"/>
<path d="M904.3 430.0L917.6 431.8" stroke="rgb(99,99,99)" stroke-width="13.4"/>
<path d="M911.0 431.8L911.0 431.8" stroke="rgb(99,99,99)" stroke-width="16.9"/>
<path d="M947.5 435.5L951.9 443.3" stroke="rgb(99,99,99)" stroke-width="12.4"/>
<path d="M1041.5 473.1L1052.5 475.3" stroke="rgb(99,99,99)" stroke-width="11.9"/>
<path d="M1127.3 448.8L1131.8 449.9" stroke="rgb(99,99,99)" stroke-width="7.9"/>
<path d="M1222.9 467.6L1222.9 467.6" stroke="rgb(99,99,99)" stroke-width="7.9"/>
<path d="M1147.3 520.7L1162.7 507.4L1180.4 503.0L1198.1 514.1L1222.5 520.7" stroke="rgb(99,99,99)" stroke-width="15.4"/>
<path d="M1184.9 516.3L1202.6 520.7L1222.5 522.9" stroke="rgb(99,99,99)" stroke-width="15.9"/>
<path d="M1034.4 516.3L1038.8 526.0" stroke="rgb(99,99,99)" stroke-width="8.9"/>
<path d="M525.8 503.6L539.9 510.7" stroke="rgb(99,99,99)" stroke-width="7.9"/>
<path d="M552.3 563.8L553.2 572.7" stroke="rgb(99,99,99)" stroke-width="8.7"/>
<path d="M525.8 559.4L532.8 557.6" stroke="rgb(99,99,99)" stroke-width="7.6"/>
<path d="M533.5 555.9L526.9 560.3" stroke="rgb(99,99,99)" stroke-width="8.4"/>
<path d="M553.9 563.6L553.4 570.2" stroke="rgb(99,99,99)" stroke-width="8.4"/>
<path d="M968.5 577.3L981.8 579.1" stroke="rgb(99,99,99)" stroke-width="14.9"/>
<path d="M1184.9 526.0L1224.7 530.0" stroke="rgb(99,99,99)" stroke-width="18.9"/>
<path d="M1103.0 553.0L1122.9 554.8L1140.6 548.1L1149.5 534.8L1153.9 526.0" stroke="rgb(99,99,99)" stroke-width="15.4"/>
<path d="M1106.3 553.7L1118.5 554.8" stroke="rgb(99,99,99)" stroke-width="11.9"/>
<path d="M1047.3 593.5L1047.3 636.6" stroke="rgb(99,99,99)" stroke-width="15.4"/>
<path d="M1045.9 601.2L1045.9 625.6" stroke="rgb(99,99,99)" stroke-width="11.4"/>
<path d="M1047.3 593.5L1074.2 593.5" stroke="rgb(99,99,99)" stroke-width="13.4"/>
<path d="M1054.3 626.7L1087.5 626.7" stroke="rgb(99,99,99)" stroke-width="10.9"/>
<path d="M752.8 724.2L758.1 734.9" stroke="rgb(99,99,99)" stroke-width="7.9"/>
<path d="M1112.3 218.9L1113.0 225.6" stroke="rgb(127,127,127)" stroke-width="7.5"/>
<path d="M672.9 448.8L681.8 453.2" stroke="rgb(127,127,127)" stroke-width="8.9"/>
<path d="M765.8 458.7L765.8 458.7" stroke="rgb(127,127,127)" stroke-width="11.9"/>
<path d="M823.6 373.6L823.6 423.3" stroke="rgb(127,127,127)" stroke-width="10.4"/>
<path d="M823.6 422.7L875.6 422.7" stroke="rgb(127,127,127)" stroke-width="9.4"/>
<path d="M944.1 430.0L953.0 445.5L964.1 458.7L968.5 476.4" stroke="rgb(127,127,127)" stroke-width="14.4"/>
<path d="M1043.3 474.2L1052.1 480.9" stroke="rgb(127,127,127)" stroke-width="11.9"/>
<path d="M1158.3 514.1L1162.7 520.7" stroke="rgb(127,127,127)" stroke-width="9.4"/>
<path d="M959.6 530.4L957.4 559.2L964.1 576.9" stroke="rgb(127,127,127)" stroke-width="13.4"/>
<path d="M1034.8 530.4L1032.6 548.1L1030.4 565.8" stroke="rgb(127,127,127)" stroke-width="10.4"/>
<path d="M1034.4 526.0L1035.5 548.1L1032.2 565.8" stroke="rgb(127,127,127)" stroke-width="10.4"/>
<path d="M1048.8 643.9L1096.4 643.9" stroke="rgb(127,127,127)" stroke-width="11.4"/>
<path d="M880.0 151.4L873.3 153.7" stroke="rgb(173,173,173)" stroke-width="8.9"/>
<path d="M178.2 416.7L188.2 431.1L199.2 441.0" stroke="rgb(173,173,173)" stroke-width="11.4"/>
<path d="M242.4 461.0L268.9 462.3" stroke="rgb(173,173,173)" stroke-width="12.9"/>
<path d="M291.0 467.6L299.9 458.7L313.2 453.2" stroke="rgb(173,173,173)" stroke-width="15.4"/>
<path d="M330.9 455.0L359.6 457.9" stroke="rgb(173,173,173)" stroke-width="11.9"/>
<path d="M682.9 400.8L687.3 401.7" stroke="rgb(173,173,173)" stroke-width="10.9"/>
<path d="M665.8 421.1L666.7 430.0" stroke="rgb(173,173,173)" stroke-width="9.4"/>
<path d="M824.7 410.1L825.1 421.1" stroke="rgb(173,173,173)" stroke-width="7.9"/>
<path d="M911.0 431.8L911.0 431.8" stroke="rgb(173,173,173)" stroke-width="13.9"/>
<path d="M947.5 435.5L951.9 443.3" stroke="rgb(173,173,173)" stroke-width="9.4"/>
<path d="M1184.9 516.3L1202.6 520.7L1222.5 522.9" stroke="rgb(173,173,173)" stroke-width="12.9"/>
<path d="M1184.9 526.0L1224.7 530.0" stroke="rgb(173,173,173)" stroke-width="15.9"/>
<path d="M1106.3 553.7L1118.5 554.8" stroke="rgb(173,173,173)" stroke-width="8.9"/>
<path d="M1047.3 593.5L1047.3 636.6" stroke="rgb(173,173,173)" stroke-width="12.4"/>
<path d="M1047.3 593.5L1074.2 593.5" stroke="rgb(173,173,173)" stroke-width="10.4"/>
<path d="M1045.9 601.2L1045.9 625.6" stroke="rgb(229,229,229)" stroke-width="8.4"/>
<path d="M916.5 409.6L916.5 409.6" stroke="rgb(0,0,0)" stroke-width="8.4"/>
<path d="M685.7 420.7L685.7 420.7" stroke="rgb(0,0,0)" stroke-width="8.4"/>
<path d="M1061.0 611.2L1061.0 611.2" stroke="rgb(0,0,0)" stroke-width="11.9"/>
<path d="M953.0 424.9L953.0 424.9" stroke="rgb(0,0,0)" stroke-width="6.5"/>
</g>
</g></g>
<path d="M170.0 829.8H978.9V845.3H170.0ZM170.0 823.9H949.7V830.4H170.0ZM170.0 818.1H938.0V824.5H170.0ZM170.0 812.2H932.2V818.7H170.0ZM170.0 806.4H926.4V812.8H170.0ZM170.0 800.5H920.5V807.0H170.0ZM170.0 794.7H908.9V801.1H170.0ZM170.0 788.8H903.0V795.3H170.0ZM170.0 783.0H891.3V789.4H170.0ZM170.0 777.2H838.8V783.6H170.0ZM856.3 777.2H885.5V783.6H856.3ZM170.0 771.3H815.5V777.8H170.0ZM170.0 765.5H780.4V771.9H170.0ZM170.0 759.6H780.4V766.1H170.0ZM170.0 753.8H774.6V760.2H170.0ZM170.0 748.0H774.6V754.4H170.0ZM170.0 742.1H757.1V748.6H170.0ZM170.0 736.3H733.7V742.7H170.0ZM170.0 730.5H722.1V736.9H170.0ZM170.0 724.6H710.4V731.1H170.0ZM170.0 718.8H687.0V725.2H170.0ZM170.0 712.9H657.8V719.4H170.0ZM170.0 707.1H657.8V713.5H170.0ZM170.0 701.3H657.8V707.7H170.0ZM170.0 695.4H657.8V701.9H170.0ZM170.0 689.6H657.8V696.0H170.0ZM170.0 683.8H657.8V690.2H170.0ZM170.0 677.9H652.0V684.4H170.0ZM170.0 672.1H652.0V678.5H170.0ZM170.0 666.2H640.3V672.7H170.0ZM170.0 660.4H640.3V666.8H170.0ZM170.0 654.6H634.5V661.0H170.0ZM170.0 648.7H634.5V655.2H170.0ZM170.0 642.9H628.7V649.3H170.0ZM170.0 637.0H628.7V643.5H170.0ZM170.0 631.2H628.7V637.6H170.0ZM170.0 625.3H628.7V631.8H170.0ZM170.0 619.5H622.8V625.9H170.0ZM170.0 613.6H617.0V620.1H170.0ZM170.0 607.8H611.1V614.2H170.0ZM170.0 601.9H605.3V608.4H170.0ZM170.0 596.1H593.6V602.5H170.0ZM170.0 590.2H587.8V596.7H170.0ZM170.0 584.4H576.1V590.8H170.0ZM170.0 578.5H558.6V585.0H170.0ZM170.0 572.6H541.1V579.1H170.0ZM170.0 566.8H482.7V573.2H170.0ZM170.0 560.9H471.0V567.4H170.0ZM170.0 555.1H465.2V561.5H170.0ZM170.0 549.2H453.5V555.7H170.0ZM170.0 543.3H453.5V549.8H170.0ZM170.0 537.4H447.7V543.9H170.0ZM170.0 531.6H447.7V538.0H170.0ZM170.0 525.7H436.0V532.2H170.0ZM170.0 519.8H430.2V526.3H170.0ZM170.0 513.9H418.5V520.4H170.0ZM170.0 508.1H401.0V514.5H170.0ZM170.0 502.2H401.0V508.7H170.0ZM170.0 496.3H395.2V502.8H170.0ZM170.0 490.4H395.2V496.9H170.0ZM170.0 484.5H395.2V491.0H170.0ZM170.0 478.6H395.2V485.1H170.0ZM170.0 472.7H395.2V479.2H170.0ZM170.0 466.8H278.4V473.3H170.0ZM301.8 466.8H395.2V473.3H301.8ZM170.0 460.9H225.9V467.4H170.0ZM260.9 460.9H272.6V467.4H260.9ZM307.6 460.9H395.2V467.4H307.6ZM170.0 455.0H225.9V461.5H170.0ZM170.0 449.1H220.0V455.6H170.0ZM170.0 443.1H208.4V449.7H170.0ZM170.0 437.2H190.8V443.7H170.0ZM170.0 431.3H185.0V437.8H170.0ZM202.5 299.9H214.2V306.5H202.5ZM231.7 299.9H278.4V306.5H231.7ZM170.0 293.9H185.0V300.5H170.0ZM196.7 293.9H220.0V300.5H196.7ZM231.7 293.9H284.2V300.5H231.7ZM170.0 287.9H220.0V294.5H170.0ZM231.7 287.9H284.2V294.5H231.7ZM170.0 281.8H220.0V288.5H170.0ZM231.7 281.8H284.2V288.5H231.7ZM170.0 275.8H220.0V282.4H170.0ZM231.7 275.8H278.4V282.4H231.7ZM170.0 269.7H220.0V276.4H170.0ZM170.0 263.7H214.2V270.3H170.0ZM170.0 257.6H202.5V264.3H170.0Z" fill="#ffffff"/>
<g fill="#808080" stroke="#000" stroke-width="1.1" stroke-linejoin="miter">
<path d="M150.0 257.7L178.5 257.7L182.0 266.2L194.4 266.2L186.8 271.0L204.5 274.5L214.8 285.1L206.6 294.5L201.0 287.4L189.5 286.4L178.5 289.2L150.0 289.2Z"/>
<path d="M241.7 285.1L269.1 284.8L277.1 291.3L271.8 297.5L258.5 297.5L251.8 299.3L241.7 296.6Z"/>
<path d="M366.5 339.1L370.9 340.5L375.3 335.0L378.8 340.9L372.7 342.7L368.8 347.1Z"/>
<path d="M370.9 472.0L386.3 470.3L386.3 481.8L380.6 487.6L366.8 487.6L374.4 484.1L374.4 473.5Z"/>
<path d="M178.5 442.5L182.0 451.9L194.8 452.6L203.6 454.5L213.4 460.2L218.7 477.3L247.9 475.6L265.6 473.5L270.0 480.5L280.6 483.5L292.5 485.8L303.6 481.9L315.5 471.7L358.5 471.7L339.6 476.1L355.0 493.3L362.9 491.5L385.9 499.1L390.4 511.5L390.4 511.6L386.8 524.9L404.5 521.3L440.8 544.3L444.3 556.7L442.9 563.5L451.8 562.0L470.9 575.3L478.0 583.3L493.9 585.9L504.5 585.0L520.4 582.9L530.0 584.5L549.5 589.8L565.4 595.3L579.6 601.9L590.2 609.8L606.1 620.1L619.4 633.7L619.4 647.0L627.3 662.9L631.8 678.8L645.0 681.2L644.9 680.9L643.1 697.7L632.5 711.0L616.5 725.1L612.7 736.6L610.4 750.4L623.6 745.5L629.3 760.5L633.0 747.3L633.4 731.7L643.1 726.0L655.5 727.8L666.1 726.0L680.3 729.9L672.8 755.2L677.6 758.2L686.1 741.1L694.4 737.2L706.8 737.2L721.0 745.5L733.4 749.9L747.5 752.6L752.5 760.5L764.3 757.0L767.0 765.0L773.2 776.5L769.6 787.6L782.9 783.5L795.3 778.2L805.0 780.0L818.3 786.2L830.2 786.4L841.7 792.2L853.2 792.2L864.7 787.8L876.2 787.8L911.6 811.7L926.6 826.7L937.3 832.0L943.1 837.0L960.0 840.5L976.0 842.2L1000.0 870.0L1000.0 900.0L150.0 900.0L150.0 442.0Z"/>
</g>
<g fill="none" stroke="#000" stroke-width="1.4" stroke-linecap="round"><path d="M196.2 431.9L200.4 434.5L203.6 438.1"/><path d="M381.8 372.9L387.0 376.5L390.2 381.3"/></g>
</g>
<g stroke="#000" stroke-width="1" stroke-dasharray="1 3" fill="none" shape-rendering="crispEdges"><line x1="339.5" y1="124" x2="339.5" y2="840"/><line x1="549.5" y1="124" x2="549.5" y2="840"/><line x1="760.5" y1="124" x2="760.5" y2="840"/><line x1="970.5" y1="124" x2="970.5" y2="840"/><line x1="1180.5" y1="124" x2="1180.5" y2="840"/><line x1="176" y1="150.5" x2="1228" y2="150.5"/><line x1="176" y1="297.5" x2="1228" y2="297.5"/><line x1="176" y1="440.5" x2="1228" y2="440.5"/><line x1="176" y1="581.5" x2="1228" y2="581.5"/><line x1="176" y1="722.5" x2="1228" y2="722.5"/></g>
<g stroke="#000" stroke-width="4.2" fill="none"><line x1="339.70" y1="126.0" x2="339.70" y2="136.5"/><line x1="339.70" y1="838.9" x2="339.70" y2="828.4"/><line x1="549.85" y1="126.0" x2="549.85" y2="136.5"/><line x1="549.85" y1="838.9" x2="549.85" y2="828.4"/><line x1="760.00" y1="126.0" x2="760.00" y2="136.5"/><line x1="760.00" y1="838.9" x2="760.00" y2="828.4"/><line x1="970.15" y1="126.0" x2="970.15" y2="136.5"/><line x1="970.15" y1="838.9" x2="970.15" y2="828.4"/><line x1="1180.30" y1="126.0" x2="1180.30" y2="136.5"/><line x1="1180.30" y1="838.9" x2="1180.30" y2="828.4"/><line x1="176.2" y1="150.81" x2="186.8" y2="150.81"/><line x1="1227.0" y1="150.81" x2="1216.5" y2="150.81"/><line x1="176.2" y1="297.20" x2="186.8" y2="297.20"/><line x1="1227.0" y1="297.20" x2="1216.5" y2="297.20"/><line x1="176.2" y1="440.48" x2="186.8" y2="440.48"/><line x1="1227.0" y1="440.48" x2="1216.5" y2="440.48"/><line x1="176.2" y1="581.74" x2="186.8" y2="581.74"/><line x1="1227.0" y1="581.74" x2="1216.5" y2="581.74"/><line x1="176.2" y1="722.00" x2="186.8" y2="722.00"/><line x1="1227.0" y1="722.00" x2="1216.5" y2="722.00"/></g>
<rect x="176.25" y="126.00" width="1050.75" height="712.85" fill="none" stroke="#000" stroke-width="4.2" stroke-linejoin="round"/>
<g font-size="17" fill="#000" opacity="0.999"><text x="340.6" y="860.8" text-anchor="middle">63<tspan dy="-7.3" font-size="15">o</tspan><tspan dy="7.3">W</tspan></text><text x="550.8" y="860.8" text-anchor="middle">54<tspan dy="-7.3" font-size="15">o</tspan><tspan dy="7.3">W</tspan></text><text x="760.9" y="860.8" text-anchor="middle">45<tspan dy="-7.3" font-size="15">o</tspan><tspan dy="7.3">W</tspan></text><text x="971.1" y="860.8" text-anchor="middle">36<tspan dy="-7.3" font-size="15">o</tspan><tspan dy="7.3">W</tspan></text><text x="1181.2" y="860.8" text-anchor="middle">27<tspan dy="-7.3" font-size="15">o</tspan><tspan dy="7.3">W</tspan></text><text x="171.3" y="159.8" text-anchor="end">24<tspan dy="-7.3" font-size="15">o</tspan><tspan dy="7.3">N</tspan></text><text x="171.3" y="306.2" text-anchor="end">18<tspan dy="-7.3" font-size="15">o</tspan><tspan dy="7.3">N</tspan></text><text x="171.3" y="449.5" text-anchor="end">12<tspan dy="-7.3" font-size="15">o</tspan><tspan dy="7.3">N</tspan></text><text x="171.3" y="590.7" text-anchor="end">6<tspan dy="-7.3" font-size="15">o</tspan><tspan dy="7.3">N</tspan></text><text x="165.8" y="731.0" text-anchor="end">0<tspan dy="-7.3" font-size="15">o</tspan></text></g>
<rect x="177.5" y="880.5" width="1062" height="19" fill="url(#cbg)" stroke="#262626" stroke-width="1"/>
<g font-size="17.2" opacity="0.999"><text x="177.5" y="924" text-anchor="middle" fill="#262626">-0.03</text><line x1="354.5" y1="889.5" x2="354.5" y2="899.5" stroke="#262626" stroke-width="1"/><text x="354.5" y="924" text-anchor="middle" fill="#262626">-0.02</text><line x1="531.5" y1="889.5" x2="531.5" y2="899.5" stroke="#262626" stroke-width="1"/><text x="531.5" y="924" text-anchor="middle" fill="#262626">-0.01</text><line x1="708.5" y1="889.5" x2="708.5" y2="899.5" stroke="#262626" stroke-width="1"/><text x="708.5" y="924" text-anchor="middle" fill="#262626">0</text><line x1="885.5" y1="889.5" x2="885.5" y2="899.5" stroke="#262626" stroke-width="1"/><text x="885.5" y="924" text-anchor="middle" fill="#262626">0.01</text><line x1="1062.5" y1="889.5" x2="1062.5" y2="899.5" stroke="#262626" stroke-width="1"/><text x="1062.5" y="924" text-anchor="middle" fill="#262626">0.02</text><text x="1239.5" y="924" text-anchor="middle" fill="#262626">0.03</text>
<text x="709" y="948.2" text-anchor="middle" fill="#262626">°C/km</text></g>
</svg>
</body></html>
